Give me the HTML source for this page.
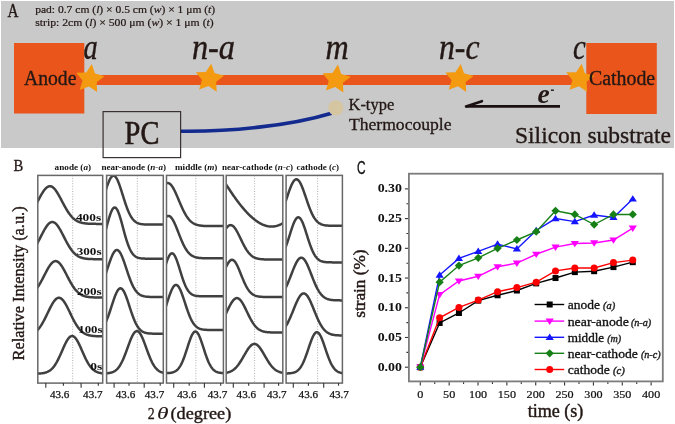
<!DOCTYPE html>
<html><head><meta charset="utf-8"><style>
html,body{margin:0;padding:0;background:#fff;width:675px;height:424px;overflow:hidden}
svg{display:block;will-change:transform}
</style></head><body>
<svg width="675" height="424" viewBox="0 0 675 424">
<rect width="675" height="424" fill="#fff"/>
<rect x="1" y="1" width="673" height="147" fill="#C9C9C9"/>
<text x="7.4" y="16.9" font-family="'Liberation Serif', serif" font-size="18.2" font-weight="normal" font-style="normal" fill="#231815" text-anchor="start" textLength="11" lengthAdjust="spacingAndGlyphs" stroke="#231815" stroke-width="0.35">A</text>
<text x="35.2" y="12.6" font-family="'Liberation Serif', serif" font-size="10.3" font-weight="normal" font-style="normal" fill="#231815" text-anchor="start" textLength="180" lengthAdjust="spacingAndGlyphs" stroke="#231815" stroke-width="0.2">pad: 0.7 cm (<tspan font-style="italic">l</tspan>) × 0.5 cm (<tspan font-style="italic">w</tspan>) × 1 μm (<tspan font-style="italic">t</tspan>)</text>
<text x="35.2" y="25.9" font-family="'Liberation Serif', serif" font-size="10.3" font-weight="normal" font-style="normal" fill="#231815" text-anchor="start" textLength="178.5" lengthAdjust="spacingAndGlyphs" stroke="#231815" stroke-width="0.2">strip: 2cm (<tspan font-style="italic">l</tspan>) × 500 μm (<tspan font-style="italic">w</tspan>) × 1 μm (<tspan font-style="italic">t</tspan>)</text>
<rect x="14" y="43" width="70.3" height="70.5" fill="#E9551A"/>
<rect x="586.3" y="43" width="70.5" height="71" fill="#E9551A"/>
<rect x="84" y="75" width="503" height="10" fill="#E9551A"/>
<text x="24" y="85.2" font-family="'Liberation Serif', serif" font-size="20" font-weight="normal" font-style="normal" fill="#231815" text-anchor="start" textLength="52.4" lengthAdjust="spacingAndGlyphs" stroke="#231815" stroke-width="0.35">Anode</text>
<polygon points="91.73,64.11 95.01,73.51 104.62,76.14 96.70,82.17 97.17,92.12 88.99,86.44 79.67,89.97 82.54,80.43 76.31,72.66 86.26,72.44" fill="#F39A10"/>
<polygon points="211.23,63.71 214.51,73.11 224.12,75.74 216.20,81.77 216.67,91.72 208.49,86.04 199.17,89.57 202.04,80.03 195.81,72.26 205.76,72.04" fill="#F39A10"/>
<polygon points="337.93,64.61 341.21,74.01 350.82,76.64 342.90,82.67 343.37,92.62 335.19,86.94 325.87,90.47 328.74,80.93 322.51,73.16 332.46,72.94" fill="#F39A10"/>
<polygon points="460.73,63.91 464.01,73.31 473.62,75.94 465.70,81.97 466.17,91.92 457.99,86.24 448.67,89.77 451.54,80.23 445.31,72.46 455.26,72.24" fill="#F39A10"/>
<polygon points="581.63,63.81 584.91,73.21 594.52,75.84 586.60,81.87 587.07,91.82 578.89,86.14 569.57,89.67 572.44,80.13 566.21,72.36 576.16,72.14" fill="#F39A10"/>
<text x="588.9" y="85" font-family="'Liberation Serif', serif" font-size="20" font-weight="normal" font-style="normal" fill="#231815" text-anchor="start" textLength="66.3" lengthAdjust="spacingAndGlyphs" stroke="#231815" stroke-width="0.35">Cathode</text>
<text x="83.6" y="59.4" font-family="'Liberation Serif', serif" font-size="35" font-weight="normal" font-style="italic" fill="#231815" text-anchor="start" textLength="14.2" lengthAdjust="spacingAndGlyphs" stroke="#231815" stroke-width="0.4">a</text>
<text x="191.9" y="59.1" font-family="'Liberation Serif', serif" font-size="35" font-weight="normal" font-style="italic" fill="#231815" text-anchor="start" textLength="43.1" lengthAdjust="spacingAndGlyphs" stroke="#231815" stroke-width="0.4">n-a</text>
<text x="325.5" y="58.9" font-family="'Liberation Serif', serif" font-size="35" font-weight="normal" font-style="italic" fill="#231815" text-anchor="start" textLength="23.2" lengthAdjust="spacingAndGlyphs" stroke="#231815" stroke-width="0.4">m</text>
<text x="439" y="59.3" font-family="'Liberation Serif', serif" font-size="35" font-weight="normal" font-style="italic" fill="#231815" text-anchor="start" textLength="40.5" lengthAdjust="spacingAndGlyphs" stroke="#231815" stroke-width="0.4">n-c</text>
<text x="573" y="59.2" font-family="'Liberation Serif', serif" font-size="35" font-weight="normal" font-style="italic" fill="#231815" text-anchor="start" textLength="12.8" lengthAdjust="spacingAndGlyphs" stroke="#231815" stroke-width="0.4">c</text>
<path d="M181,131.2 C230,131.8 290,125.8 331.5,113.2" fill="none" stroke="#132A8E" stroke-width="3.6"/>
<circle cx="335.8" cy="107.8" r="7.6" fill="#D5C5A1"/>
<text x="348.5" y="110.1" font-family="'Liberation Serif', serif" font-size="17" font-weight="normal" font-style="normal" fill="#231815" text-anchor="start" textLength="45.7" lengthAdjust="spacingAndGlyphs" stroke="#231815" stroke-width="0.3">K-type</text>
<text x="348.9" y="129.7" font-family="'Liberation Serif', serif" font-size="17" font-weight="normal" font-style="normal" fill="#231815" text-anchor="start" textLength="102.7" lengthAdjust="spacingAndGlyphs" stroke="#231815" stroke-width="0.3">Thermocouple</text>
<rect x="103.1" y="111.6" width="77.5" height="46" fill="none" stroke="#3a3232" stroke-width="1.2"/>
<text x="124.6" y="144.3" font-family="'Liberation Serif', serif" font-size="34" font-weight="normal" font-style="normal" fill="#231815" text-anchor="start" textLength="34.8" lengthAdjust="spacingAndGlyphs" stroke="#231815" stroke-width="0.6">PC</text>
<line x1="466" y1="106.4" x2="560" y2="106.4" stroke="#1a1010" stroke-width="2.6"/>
<line x1="466" y1="106.4" x2="481.9" y2="101.2" stroke="#1a1010" stroke-width="2.6" stroke-linecap="round"/>
<text x="537.6" y="103.2" font-family="'Liberation Serif', serif" font-size="28" font-weight="bold" font-style="italic" fill="#231815" text-anchor="start" textLength="12.2" lengthAdjust="spacingAndGlyphs">e</text>
<rect x="550.9" y="89.5" width="3" height="1.4" fill="#1a1010"/>
<text x="515" y="143" font-family="'Liberation Serif', serif" font-size="24" font-weight="normal" font-style="normal" fill="#231815" text-anchor="start" textLength="156" lengthAdjust="spacingAndGlyphs" stroke="#231815" stroke-width="0.35">Silicon substrate</text>
<text x="13.5" y="171.3" font-family="'Liberation Serif', serif" font-size="16.6" font-weight="normal" font-style="normal" fill="#231815" text-anchor="start" textLength="9.8" lengthAdjust="spacingAndGlyphs" stroke="#231815" stroke-width="0.3">B</text>
<text x="54.6" y="169.9" font-family="'Liberation Serif', serif" font-size="8.6" font-weight="bold" font-style="normal" fill="#111" text-anchor="start" textLength="36.5" lengthAdjust="spacingAndGlyphs">anode (<tspan font-style="italic">a</tspan>)</text>
<text x="101.4" y="169.9" font-family="'Liberation Serif', serif" font-size="8.6" font-weight="bold" font-style="normal" fill="#111" text-anchor="start" textLength="64.6" lengthAdjust="spacingAndGlyphs">near-anode (<tspan font-style="italic">n-a</tspan>)</text>
<text x="175" y="169.9" font-family="'Liberation Serif', serif" font-size="8.6" font-weight="bold" font-style="normal" fill="#111" text-anchor="start" textLength="42.4" lengthAdjust="spacingAndGlyphs">middle (<tspan font-style="italic">m</tspan>)</text>
<text x="222" y="169.9" font-family="'Liberation Serif', serif" font-size="8.6" font-weight="bold" font-style="normal" fill="#111" text-anchor="start" textLength="71" lengthAdjust="spacingAndGlyphs">near-cathode (<tspan font-style="italic">n-c</tspan>)</text>
<text x="296.6" y="169.9" font-family="'Liberation Serif', serif" font-size="8.6" font-weight="bold" font-style="normal" fill="#111" text-anchor="start" textLength="42.4" lengthAdjust="spacingAndGlyphs">cathode (<tspan font-style="italic">c</tspan>)</text>
<defs>
<clipPath id="cb0"><rect x="37.8" y="175.4" width="64.9" height="207.70000000000002"/></clipPath>
<clipPath id="cb1"><rect x="106.6" y="175.4" width="56.70000000000002" height="207.70000000000002"/></clipPath>
<clipPath id="cb2"><rect x="166.5" y="175.4" width="56.900000000000006" height="207.70000000000002"/></clipPath>
<clipPath id="cb3"><rect x="226.2" y="175.4" width="56.60000000000002" height="207.70000000000002"/></clipPath>
<clipPath id="cb4"><rect x="286.1" y="175.4" width="56.299999999999955" height="207.70000000000002"/></clipPath>
</defs>
<rect x="37.8" y="175.4" width="64.9" height="207.70000000000002" fill="#fff"/>
<line x1="72.7" y1="175.4" x2="72.7" y2="383.1" stroke="#9a9a9a" stroke-width="0.8" stroke-dasharray="1,1.6"/>
<g clip-path="url(#cb0)"><polyline points="35.8,373.65 36.3,373.64 36.8,373.63 37.3,373.61 37.8,373.59 38.3,373.58 38.8,373.55 39.3,373.53 39.8,373.50 40.3,373.46 40.8,373.42 41.3,373.37 41.8,373.32 42.3,373.26 42.8,373.18 43.3,373.10 43.8,373.01 44.3,372.91 44.8,372.79 45.3,372.66 45.8,372.51 46.3,372.35 46.8,372.16 47.3,371.96 47.8,371.73 48.3,371.48 48.8,371.20 49.3,370.90 49.8,370.56 50.3,370.20 50.8,369.80 51.3,369.37 51.8,368.90 52.3,368.39 52.8,367.85 53.3,367.26 53.8,366.63 54.3,365.97 54.8,365.26 55.3,364.51 55.8,363.71 56.3,362.88 56.8,362.00 57.3,361.09 57.8,360.14 58.3,359.15 58.8,358.13 59.3,357.08 59.8,356.01 60.3,354.91 60.8,353.79 61.3,352.66 61.8,351.52 62.3,350.38 62.8,349.24 63.3,348.10 63.8,346.99 64.3,345.89 64.8,344.82 65.3,343.78 65.8,342.79 66.3,341.84 66.8,340.94 67.3,340.10 67.8,339.33 68.3,338.63 68.8,338.00 69.3,337.45 69.8,336.98 70.3,336.61 70.8,336.32 71.3,336.12 71.8,336.02 72.3,336.01 72.8,336.09 73.3,336.27 73.8,336.54 74.3,336.90 74.8,337.35 75.3,337.88 75.8,338.49 76.3,339.18 76.8,339.94 77.3,340.77 77.8,341.65 78.3,342.59 78.8,343.58 79.3,344.61 79.8,345.67 80.3,346.76 80.8,347.88 81.3,349.01 81.8,350.15 82.3,351.29 82.8,352.43 83.3,353.56 83.8,354.69 84.3,355.79 84.8,356.87 85.3,357.92 85.8,358.95 86.3,359.94 86.8,360.90 87.3,361.82 87.8,362.71 88.3,363.55 88.8,364.35 89.3,365.11 89.8,365.83 90.3,366.50 90.8,367.14 91.3,367.73 91.8,368.28 92.3,368.80 92.8,369.28 93.3,369.72 93.8,370.12 94.3,370.49 94.8,370.83 95.3,371.14 95.8,371.43 96.3,371.68 96.8,371.92 97.3,372.12 97.8,372.31 98.3,372.48 98.8,372.63 99.3,372.77 99.8,372.89 100.3,372.99 100.8,373.09 101.3,373.17 101.8,373.24 102.3,373.31 102.8,373.36 103.3,373.41 103.8,373.45 104.3,373.49" fill="none" stroke="#404040" stroke-width="2.5" stroke-linejoin="round"/><polyline points="35.8,331.71 36.3,331.27 36.8,330.80 37.3,330.30 37.8,329.77 38.3,329.21 38.8,328.61 39.3,327.97 39.8,327.31 40.3,326.60 40.8,325.87 41.3,325.10 41.8,324.30 42.3,323.46 42.8,322.60 43.3,321.71 43.8,320.78 44.3,319.84 44.8,318.87 45.3,317.88 45.8,316.87 46.3,315.85 46.8,314.82 47.3,313.78 47.8,312.74 48.3,311.70 48.8,310.66 49.3,309.64 49.8,308.62 50.3,307.63 50.8,306.66 51.3,305.72 51.8,304.81 52.3,303.94 52.8,303.11 53.3,302.32 53.8,301.59 54.3,300.91 54.8,300.30 55.3,299.74 55.8,299.25 56.3,298.82 56.8,298.47 57.3,298.19 57.8,297.99 58.3,297.86 58.8,297.80 59.3,297.82 59.8,297.92 60.3,298.10 60.8,298.35 61.3,298.67 61.8,299.07 62.3,299.53 62.8,300.06 63.3,300.66 63.8,301.31 64.3,302.02 64.8,302.79 65.3,303.60 65.8,304.45 66.3,305.35 66.8,306.28 67.3,307.24 67.8,308.22 68.3,309.23 68.8,310.25 69.3,311.28 69.8,312.32 70.3,313.37 70.8,314.41 71.3,315.44 71.8,316.47 72.3,317.48 72.8,318.48 73.3,319.45 73.8,320.41 74.3,321.34 74.8,322.25 75.3,323.12 75.8,323.97 76.3,324.78 76.8,325.56 77.3,326.31 77.8,327.03 78.3,327.71 78.8,328.36 79.3,328.97 79.8,329.55 80.3,330.10 80.8,330.61 81.3,331.09 81.8,331.54 82.3,331.96 82.8,332.35 83.3,332.71 83.8,333.05 84.3,333.36 84.8,333.64 85.3,333.91 85.8,334.15 86.3,334.37 86.8,334.57 87.3,334.75 87.8,334.92 88.3,335.07 88.8,335.21 89.3,335.33 89.8,335.44 90.3,335.54 90.8,335.63 91.3,335.71 91.8,335.79 92.3,335.85 92.8,335.91 93.3,335.96 93.8,336.00 94.3,336.04 94.8,336.07 95.3,336.10 95.8,336.13 96.3,336.15 96.8,336.17 97.3,336.19 97.8,336.21 98.3,336.22 98.8,336.23 99.3,336.24 99.8,336.25 100.3,336.26 100.8,336.26 101.3,336.27 101.8,336.27 102.3,336.28 102.8,336.28 103.3,336.29 103.8,336.29 104.3,336.29" fill="none" stroke="#404040" stroke-width="2.5" stroke-linejoin="round"/><polyline points="35.8,289.66 36.3,289.03 36.8,288.38 37.3,287.69 37.8,286.97 38.3,286.22 38.8,285.45 39.3,284.64 39.8,283.80 40.3,282.94 40.8,282.06 41.3,281.16 41.8,280.23 42.3,279.29 42.8,278.34 43.3,277.37 43.8,276.40 44.3,275.42 44.8,274.45 45.3,273.47 45.8,272.51 46.3,271.56 46.8,270.62 47.3,269.71 47.8,268.82 48.3,267.96 48.8,267.13 49.3,266.34 49.8,265.59 50.3,264.89 50.8,264.24 51.3,263.64 51.8,263.10 52.3,262.62 52.8,262.20 53.3,261.85 53.8,261.56 54.3,261.34 54.8,261.19 55.3,261.11 55.8,261.11 56.3,261.17 56.8,261.30 57.3,261.51 57.8,261.78 58.3,262.12 58.8,262.53 59.3,263.00 59.8,263.53 60.3,264.12 60.8,264.76 61.3,265.45 61.8,266.19 62.3,266.97 62.8,267.79 63.3,268.64 63.8,269.53 64.3,270.44 64.8,271.37 65.3,272.32 65.8,273.28 66.3,274.25 66.8,275.23 67.3,276.20 67.8,277.18 68.3,278.14 68.8,279.10 69.3,280.05 69.8,280.97 70.3,281.88 70.8,282.77 71.3,283.63 71.8,284.47 72.3,285.29 72.8,286.07 73.3,286.83 73.8,287.55 74.3,288.24 74.8,288.91 75.3,289.54 75.8,290.13 76.3,290.70 76.8,291.24 77.3,291.74 77.8,292.22 78.3,292.66 78.8,293.08 79.3,293.46 79.8,293.83 80.3,294.16 80.8,294.47 81.3,294.76 81.8,295.02 82.3,295.27 82.8,295.49 83.3,295.70 83.8,295.88 84.3,296.05 84.8,296.21 85.3,296.35 85.8,296.48 86.3,296.59 86.8,296.70 87.3,296.79 87.8,296.87 88.3,296.95 88.8,297.01 89.3,297.07 89.8,297.13 90.3,297.17 90.8,297.22 91.3,297.25 91.8,297.28 92.3,297.31 92.8,297.34 93.3,297.36 93.8,297.38 94.3,297.40 94.8,297.41 95.3,297.42 95.8,297.44 96.3,297.44 96.8,297.45 97.3,297.46 97.8,297.47 98.3,297.47 98.8,297.48 99.3,297.48 99.8,297.48 100.3,297.49 100.8,297.49 101.3,297.49 101.8,297.49 102.3,297.49 102.8,297.49 103.3,297.50 103.8,297.50 104.3,297.50" fill="none" stroke="#404040" stroke-width="2.5" stroke-linejoin="round"/><polyline points="35.8,245.91 36.3,245.07 36.8,244.20 37.3,243.31 37.8,242.40 38.3,241.47 38.8,240.52 39.3,239.56 39.8,238.59 40.3,237.62 40.8,236.64 41.3,235.66 41.8,234.68 42.3,233.71 42.8,232.75 43.3,231.81 43.8,230.89 44.3,229.99 44.8,229.13 45.3,228.29 45.8,227.49 46.3,226.73 46.8,226.02 47.3,225.36 47.8,224.74 48.3,224.18 48.8,223.68 49.3,223.24 49.8,222.87 50.3,222.56 50.8,222.32 51.3,222.14 51.8,222.04 52.3,222.00 52.8,222.04 53.3,222.14 53.8,222.32 54.3,222.56 54.8,222.87 55.3,223.24 55.8,223.68 56.3,224.18 56.8,224.74 57.3,225.36 57.8,226.02 58.3,226.73 58.8,227.49 59.3,228.29 59.8,229.13 60.3,229.99 60.8,230.89 61.3,231.81 61.8,232.75 62.3,233.71 62.8,234.68 63.3,235.66 63.8,236.64 64.3,237.62 64.8,238.59 65.3,239.56 65.8,240.52 66.3,241.47 66.8,242.40 67.3,243.31 67.8,244.20 68.3,245.07 68.8,245.91 69.3,246.73 69.8,247.51 70.3,248.27 70.8,249.00 71.3,249.70 71.8,250.37 72.3,251.00 72.8,251.61 73.3,252.18 73.8,252.72 74.3,253.23 74.8,253.71 75.3,254.17 75.8,254.59 76.3,254.99 76.8,255.35 77.3,255.70 77.8,256.02 78.3,256.31 78.8,256.58 79.3,256.84 79.8,257.07 80.3,257.28 80.8,257.47 81.3,257.65 81.8,257.81 82.3,257.96 82.8,258.10 83.3,258.22 83.8,258.33 84.3,258.43 84.8,258.51 85.3,258.59 85.8,258.67 86.3,258.73 86.8,258.79 87.3,258.84 87.8,258.88 88.3,258.92 88.8,258.96 89.3,258.99 89.8,259.02 90.3,259.04 90.8,259.06 91.3,259.08 91.8,259.10 92.3,259.11 92.8,259.12 93.3,259.14 93.8,259.14 94.3,259.15 94.8,259.16 95.3,259.17 95.8,259.17 96.3,259.18 96.8,259.18 97.3,259.18 97.8,259.19 98.3,259.19 98.8,259.19 99.3,259.19 99.8,259.19 100.3,259.19 100.8,259.19 101.3,259.20 101.8,259.20 102.3,259.20 102.8,259.20 103.3,259.20 103.8,259.20 104.3,259.20" fill="none" stroke="#404040" stroke-width="2.5" stroke-linejoin="round"/><polyline points="35.8,205.00 36.3,204.07 36.8,203.12 37.3,202.18 37.8,201.22 38.3,200.27 38.8,199.32 39.3,198.38 39.8,197.44 40.3,196.52 40.8,195.62 41.3,194.74 41.8,193.88 42.3,193.05 42.8,192.25 43.3,191.49 43.8,190.77 44.3,190.09 44.8,189.46 45.3,188.87 45.8,188.34 46.3,187.86 46.8,187.44 47.3,187.07 47.8,186.77 48.3,186.53 48.8,186.36 49.3,186.25 49.8,186.20 50.3,186.22 50.8,186.31 51.3,186.46 51.8,186.67 52.3,186.95 52.8,187.28 53.3,187.68 53.8,188.14 54.3,188.65 54.8,189.22 55.3,189.83 55.8,190.49 56.3,191.20 56.8,191.94 57.3,192.73 57.8,193.55 58.3,194.39 58.8,195.27 59.3,196.16 59.8,197.07 60.3,198.00 60.8,198.94 61.3,199.89 61.8,200.84 62.3,201.80 62.8,202.75 63.3,203.69 63.8,204.63 64.3,205.55 64.8,206.46 65.3,207.35 65.8,208.23 66.3,209.08 66.8,209.92 67.3,210.72 67.8,211.51 68.3,212.26 68.8,212.99 69.3,213.70 69.8,214.37 70.3,215.01 70.8,215.63 71.3,216.21 71.8,216.77 72.3,217.30 72.8,217.80 73.3,218.27 73.8,218.71 74.3,219.13 74.8,219.52 75.3,219.89 75.8,220.23 76.3,220.55 76.8,220.84 77.3,221.12 77.8,221.37 78.3,221.61 78.8,221.83 79.3,222.03 79.8,222.21 80.3,222.38 80.8,222.53 81.3,222.67 81.8,222.80 82.3,222.92 82.8,223.02 83.3,223.12 83.8,223.20 84.3,223.28 84.8,223.35 85.3,223.41 85.8,223.47 86.3,223.52 86.8,223.57 87.3,223.61 87.8,223.64 88.3,223.67 88.8,223.70 89.3,223.73 89.8,223.75 90.3,223.77 90.8,223.79 91.3,223.80 91.8,223.82 92.3,223.83 92.8,223.84 93.3,223.85 93.8,223.85 94.3,223.86 94.8,223.87 95.3,223.87 95.8,223.87 96.3,223.88 96.8,223.88 97.3,223.88 97.8,223.89 98.3,223.89 98.8,223.89 99.3,223.89 99.8,223.89 100.3,223.89 100.8,223.90 101.3,223.90 101.8,223.90 102.3,223.90 102.8,223.90 103.3,223.90 103.8,223.90 104.3,223.90" fill="none" stroke="#404040" stroke-width="2.5" stroke-linejoin="round"/></g>
<rect x="37.8" y="175.4" width="64.9" height="207.70000000000002" fill="none" stroke="#686868" stroke-width="1.5"/>
<line x1="45.8" y1="383.1" x2="45.8" y2="387.8" stroke="#333" stroke-width="1.1"/>
<line x1="63.4" y1="383.1" x2="63.4" y2="385.70000000000005" stroke="#333" stroke-width="1.1"/>
<line x1="81.1" y1="383.1" x2="81.1" y2="387.8" stroke="#333" stroke-width="1.1"/>
<line x1="98.3" y1="383.1" x2="98.3" y2="385.70000000000005" stroke="#333" stroke-width="1.1"/>
<text x="59.7" y="397.6" font-family="'Liberation Serif', serif" font-size="10.2" font-weight="normal" font-style="normal" fill="#111" text-anchor="middle" textLength="19.4" lengthAdjust="spacingAndGlyphs" stroke="#111" stroke-width="0.25">43.6</text>
<text x="92.8" y="397.6" font-family="'Liberation Serif', serif" font-size="10.2" font-weight="normal" font-style="normal" fill="#111" text-anchor="middle" textLength="19.4" lengthAdjust="spacingAndGlyphs" stroke="#111" stroke-width="0.25">43.7</text>
<rect x="106.6" y="175.4" width="56.70000000000002" height="207.70000000000002" fill="#fff"/>
<line x1="137.3" y1="175.4" x2="137.3" y2="383.1" stroke="#9a9a9a" stroke-width="0.8" stroke-dasharray="1,1.6"/>
<g clip-path="url(#cb1)"><polyline points="104.6,373.40 105.1,373.38 105.6,373.35 106.1,373.32 106.6,373.29 107.1,373.25 107.6,373.20 108.1,373.15 108.6,373.09 109.1,373.01 109.6,372.93 110.1,372.83 110.6,372.72 111.1,372.60 111.6,372.45 112.1,372.29 112.6,372.10 113.1,371.90 113.6,371.66 114.1,371.40 114.6,371.11 115.1,370.78 115.6,370.42 116.1,370.02 116.6,369.58 117.1,369.10 117.6,368.58 118.1,368.00 118.6,367.38 119.1,366.71 119.6,365.98 120.1,365.21 120.6,364.37 121.1,363.49 121.6,362.54 122.1,361.55 122.6,360.50 123.1,359.40 123.6,358.25 124.1,357.06 124.6,355.82 125.1,354.54 125.6,353.23 126.1,351.90 126.6,350.54 127.1,349.16 127.6,347.78 128.1,346.40 128.6,345.03 129.1,343.67 129.6,342.34 130.1,341.05 130.6,339.79 131.1,338.59 131.6,337.46 132.1,336.39 132.6,335.40 133.1,334.50 133.6,333.69 134.1,332.98 134.6,332.38 135.1,331.89 135.6,331.51 136.1,331.26 136.6,331.12 137.1,331.11 137.6,331.22 138.1,331.45 138.6,331.80 139.1,332.27 139.6,332.85 140.1,333.54 140.6,334.33 141.1,335.21 141.6,336.18 142.1,337.24 142.6,338.36 143.1,339.55 143.6,340.79 144.1,342.08 144.6,343.40 145.1,344.76 145.6,346.13 146.1,347.51 146.6,348.89 147.1,350.26 147.6,351.63 148.1,352.97 148.6,354.28 149.1,355.57 149.6,356.81 150.1,358.02 150.6,359.17 151.1,360.28 151.6,361.34 152.1,362.35 152.6,363.30 153.1,364.20 153.6,365.04 154.1,365.83 154.6,366.57 155.1,367.25 155.6,367.88 156.1,368.47 156.6,369.00 157.1,369.49 157.6,369.94 158.1,370.35 158.6,370.71 159.1,371.05 159.6,371.34 160.1,371.61 160.6,371.85 161.1,372.06 161.6,372.25 162.1,372.42 162.6,372.57 163.1,372.70 163.6,372.81 164.1,372.91 164.6,373.00 165.1,373.07" fill="none" stroke="#404040" stroke-width="2.5" stroke-linejoin="round"/><polyline points="104.6,324.50 105.1,323.54 105.6,322.52 106.1,321.44 106.6,320.29 107.1,319.08 107.6,317.82 108.1,316.50 108.6,315.13 109.1,313.71 109.6,312.25 110.1,310.76 110.6,309.24 111.1,307.71 111.6,306.16 112.1,304.62 112.6,303.08 113.1,301.57 113.6,300.08 114.1,298.64 114.6,297.26 115.1,295.93 115.6,294.68 116.1,293.52 116.6,292.46 117.1,291.49 117.6,290.65 118.1,289.92 118.6,289.32 119.1,288.86 119.6,288.53 120.1,288.35 120.6,288.30 121.1,288.40 121.6,288.65 122.1,289.03 122.6,289.55 123.1,290.20 123.6,290.97 124.1,291.87 124.6,292.87 125.1,293.98 125.6,295.17 126.1,296.45 126.6,297.80 127.1,299.21 127.6,300.67 128.1,302.17 128.6,303.70 129.1,305.24 129.6,306.78 130.1,308.32 130.6,309.85 131.1,311.36 131.6,312.84 132.1,314.28 132.6,315.68 133.1,317.03 133.6,318.33 134.1,319.57 134.6,320.76 135.1,321.88 135.6,322.94 136.1,323.93 136.6,324.86 137.1,325.73 137.6,326.53 138.1,327.27 138.6,327.96 139.1,328.59 139.6,329.16 140.1,329.68 140.6,330.16 141.1,330.58 141.6,330.97 142.1,331.31 142.6,331.62 143.1,331.89 143.6,332.14 144.1,332.35 144.6,332.54 145.1,332.70 145.6,332.85 146.1,332.97 146.6,333.08 147.1,333.18 147.6,333.26 148.1,333.33 148.6,333.39 149.1,333.44 149.6,333.48 150.1,333.52 150.6,333.55 151.1,333.58 151.6,333.60 152.1,333.62 152.6,333.63 153.1,333.64 153.6,333.65 154.1,333.66 154.6,333.67 155.1,333.68 155.6,333.68 156.1,333.68 156.6,333.69 157.1,333.69 157.6,333.69 158.1,333.69 158.6,333.70 159.1,333.70 159.6,333.70 160.1,333.70 160.6,333.70 161.1,333.70 161.6,333.70 162.1,333.70 162.6,333.70 163.1,333.70 163.6,333.70 164.1,333.70 164.6,333.70 165.1,333.70" fill="none" stroke="#404040" stroke-width="2.5" stroke-linejoin="round"/><polyline points="104.6,277.03 105.1,275.62 105.6,274.18 106.1,272.71 106.6,271.21 107.1,269.71 107.6,268.19 108.1,266.68 108.6,265.17 109.1,263.69 109.6,262.24 110.1,260.82 110.6,259.45 111.1,258.15 111.6,256.91 112.1,255.75 112.6,254.67 113.1,253.69 113.6,252.81 114.1,252.04 114.6,251.39 115.1,250.85 115.6,250.45 116.1,250.17 116.6,250.02 117.1,250.01 117.6,250.13 118.1,250.38 118.6,250.76 119.1,251.27 119.6,251.90 120.1,252.65 120.6,253.50 121.1,254.46 121.6,255.52 122.1,256.67 122.6,257.89 123.1,259.19 123.6,260.54 124.1,261.95 124.6,263.40 125.1,264.87 125.6,266.37 126.1,267.89 126.6,269.40 127.1,270.91 127.6,272.41 128.1,273.89 128.6,275.34 129.1,276.75 129.6,278.13 130.1,279.47 130.6,280.75 131.1,281.98 131.6,283.16 132.1,284.29 132.6,285.35 133.1,286.36 133.6,287.30 134.1,288.19 134.6,289.02 135.1,289.79 135.6,290.50 136.1,291.16 136.6,291.77 137.1,292.33 137.6,292.84 138.1,293.31 138.6,293.73 139.1,294.11 139.6,294.45 140.1,294.76 140.6,295.04 141.1,295.29 141.6,295.51 142.1,295.71 142.6,295.88 143.1,296.03 143.6,296.17 144.1,296.29 144.6,296.39 145.1,296.48 145.6,296.56 146.1,296.62 146.6,296.68 147.1,296.73 147.6,296.77 148.1,296.81 148.6,296.84 149.1,296.87 149.6,296.89 150.1,296.91 150.6,296.92 151.1,296.94 151.6,296.95 152.1,296.96 152.6,296.97 153.1,296.97 153.6,296.98 154.1,296.98 154.6,296.98 155.1,296.99 155.6,296.99 156.1,296.99 156.6,296.99 157.1,296.99 157.6,297.00 158.1,297.00 158.6,297.00 159.1,297.00 159.6,297.00 160.1,297.00 160.6,297.00 161.1,297.00 161.6,297.00 162.1,297.00 162.6,297.00 163.1,297.00 163.6,297.00 164.1,297.00 164.6,297.00 165.1,297.00" fill="none" stroke="#404040" stroke-width="2.5" stroke-linejoin="round"/><polyline points="104.6,234.28 105.1,232.47 105.6,230.63 106.1,228.77 106.6,226.90 107.1,225.03 107.6,223.19 108.1,221.38 108.6,219.62 109.1,217.92 109.6,216.31 110.1,214.79 110.6,213.38 111.1,212.10 111.6,210.95 112.1,209.95 112.6,209.11 113.1,208.44 113.6,207.95 114.1,207.63 114.6,207.50 115.1,207.56 115.6,207.80 116.1,208.22 116.6,208.82 117.1,209.60 117.6,210.53 118.1,211.62 118.6,212.85 119.1,214.21 119.6,215.69 120.1,217.27 120.6,218.93 121.1,220.67 121.6,222.46 122.1,224.29 122.6,226.15 123.1,228.02 123.6,229.89 124.1,231.74 124.6,233.56 125.1,235.35 125.6,237.08 126.1,238.76 126.6,240.38 127.1,241.93 127.6,243.40 128.1,244.79 128.6,246.10 129.1,247.33 129.6,248.48 130.1,249.54 130.6,250.53 131.1,251.43 131.6,252.26 132.1,253.01 132.6,253.70 133.1,254.31 133.6,254.87 134.1,255.37 134.6,255.81 135.1,256.20 135.6,256.55 136.1,256.86 136.6,257.12 137.1,257.36 137.6,257.56 138.1,257.74 138.6,257.89 139.1,258.02 139.6,258.13 140.1,258.23 140.6,258.31 141.1,258.37 141.6,258.43 142.1,258.48 142.6,258.52 143.1,258.55 143.6,258.58 144.1,258.60 144.6,258.62 145.1,258.64 145.6,258.65 146.1,258.66 146.6,258.67 147.1,258.67 147.6,258.68 148.1,258.68 148.6,258.69 149.1,258.69 149.6,258.69 150.1,258.69 150.6,258.70 151.1,258.70 151.6,258.70 152.1,258.70 152.6,258.70 153.1,258.70 153.6,258.70 154.1,258.70 154.6,258.70 155.1,258.70 155.6,258.70 156.1,258.70 156.6,258.70 157.1,258.70 157.6,258.70 158.1,258.70 158.6,258.70 159.1,258.70 159.6,258.70 160.1,258.70 160.6,258.70 161.1,258.70 161.6,258.70 162.1,258.70 162.6,258.70 163.1,258.70 163.6,258.70 164.1,258.70 164.6,258.70 165.1,258.70" fill="none" stroke="#404040" stroke-width="2.5" stroke-linejoin="round"/><polyline points="104.6,193.97 105.1,192.37 105.6,190.78 106.1,189.21 106.6,187.69 107.1,186.21 107.6,184.79 108.1,183.44 108.6,182.17 109.1,180.98 109.6,179.90 110.1,178.93 110.6,178.07 111.1,177.34 111.6,176.73 112.1,176.26 112.6,175.93 113.1,175.75 113.6,175.70 114.1,175.80 114.6,176.05 115.1,176.43 115.6,176.96 116.1,177.61 116.6,178.40 117.1,179.30 117.6,180.32 118.1,181.45 118.6,182.66 119.1,183.97 119.6,185.35 120.1,186.79 120.6,188.29 121.1,189.84 121.6,191.41 122.1,193.01 122.6,194.62 123.1,196.23 123.6,197.83 124.1,199.42 124.6,200.98 125.1,202.52 125.6,204.01 126.1,205.46 126.6,206.86 127.1,208.20 127.6,209.49 128.1,210.72 128.6,211.88 129.1,212.99 129.6,214.02 130.1,215.00 130.6,215.91 131.1,216.75 131.6,217.54 132.1,218.27 132.6,218.93 133.1,219.54 133.6,220.10 134.1,220.61 134.6,221.08 135.1,221.49 135.6,221.87 136.1,222.21 136.6,222.51 137.1,222.78 137.6,223.02 138.1,223.23 138.6,223.42 139.1,223.58 139.6,223.73 140.1,223.85 140.6,223.96 141.1,224.06 141.6,224.14 142.1,224.21 142.6,224.27 143.1,224.32 143.6,224.37 144.1,224.41 144.6,224.44 145.1,224.47 145.6,224.49 146.1,224.51 146.6,224.52 147.1,224.54 147.6,224.55 148.1,224.56 148.6,224.57 149.1,224.57 149.6,224.58 150.1,224.58 150.6,224.59 151.1,224.59 151.6,224.59 152.1,224.59 152.6,224.59 153.1,224.60 153.6,224.60 154.1,224.60 154.6,224.60 155.1,224.60 155.6,224.60 156.1,224.60 156.6,224.60 157.1,224.60 157.6,224.60 158.1,224.60 158.6,224.60 159.1,224.60 159.6,224.60 160.1,224.60 160.6,224.60 161.1,224.60 161.6,224.60 162.1,224.60 162.6,224.60 163.1,224.60 163.6,224.60 164.1,224.60 164.6,224.60 165.1,224.60" fill="none" stroke="#404040" stroke-width="2.5" stroke-linejoin="round"/></g>
<rect x="106.6" y="175.4" width="56.70000000000002" height="207.70000000000002" fill="none" stroke="#686868" stroke-width="1.5"/>
<line x1="114.1" y1="383.1" x2="114.1" y2="387.8" stroke="#333" stroke-width="1.1"/>
<line x1="129" y1="383.1" x2="129" y2="385.70000000000005" stroke="#333" stroke-width="1.1"/>
<line x1="144.2" y1="383.1" x2="144.2" y2="387.8" stroke="#333" stroke-width="1.1"/>
<line x1="160.2" y1="383.1" x2="160.2" y2="385.70000000000005" stroke="#333" stroke-width="1.1"/>
<text x="125.5" y="397.6" font-family="'Liberation Serif', serif" font-size="10.2" font-weight="normal" font-style="normal" fill="#111" text-anchor="middle" textLength="19.4" lengthAdjust="spacingAndGlyphs" stroke="#111" stroke-width="0.25">43.6</text>
<text x="154.5" y="397.6" font-family="'Liberation Serif', serif" font-size="10.2" font-weight="normal" font-style="normal" fill="#111" text-anchor="middle" textLength="19.4" lengthAdjust="spacingAndGlyphs" stroke="#111" stroke-width="0.25">43.7</text>
<rect x="166.5" y="175.4" width="56.900000000000006" height="207.70000000000002" fill="#fff"/>
<line x1="195.9" y1="175.4" x2="195.9" y2="383.1" stroke="#9a9a9a" stroke-width="0.8" stroke-dasharray="1,1.6"/>
<g clip-path="url(#cb2)"><polyline points="164.5,373.17 165.0,373.16 165.5,373.15 166.0,373.14 166.5,373.13 167.0,373.11 167.5,373.09 168.0,373.06 168.5,373.03 169.0,372.99 169.5,372.95 170.0,372.89 170.5,372.83 171.0,372.75 171.5,372.66 172.0,372.56 172.5,372.43 173.0,372.29 173.5,372.12 174.0,371.93 174.5,371.71 175.0,371.45 175.5,371.16 176.0,370.83 176.5,370.46 177.0,370.04 177.5,369.57 178.0,369.05 178.5,368.47 179.0,367.83 179.5,367.13 180.0,366.36 180.5,365.52 181.0,364.61 181.5,363.64 182.0,362.59 182.5,361.47 183.0,360.28 183.5,359.03 184.0,357.71 184.5,356.34 185.0,354.91 185.5,353.44 186.0,351.93 186.5,350.40 187.0,348.84 187.5,347.28 188.0,345.73 188.5,344.19 189.0,342.68 189.5,341.22 190.0,339.81 190.5,338.47 191.0,337.22 191.5,336.06 192.0,335.02 192.5,334.09 193.0,333.29 193.5,332.63 194.0,332.12 194.5,331.76 195.0,331.55 195.5,331.50 196.0,331.61 196.5,331.88 197.0,332.31 197.5,332.88 198.0,333.59 198.5,334.44 199.0,335.42 199.5,336.51 200.0,337.71 200.5,339.00 201.0,340.36 201.5,341.80 202.0,343.28 202.5,344.80 203.0,346.35 203.5,347.91 204.0,349.47 204.5,351.01 205.0,352.54 205.5,354.03 206.0,355.49 206.5,356.89 207.0,358.24 207.5,359.54 208.0,360.76 208.5,361.92 209.0,363.01 209.5,364.03 210.0,364.98 210.5,365.86 211.0,366.67 211.5,367.42 212.0,368.09 212.5,368.71 213.0,369.27 213.5,369.77 214.0,370.21 214.5,370.61 215.0,370.97 215.5,371.28 216.0,371.56 216.5,371.80 217.0,372.01 217.5,372.19 218.0,372.35 218.5,372.49 219.0,372.60 219.5,372.70 220.0,372.79 220.5,372.86 221.0,372.92 221.5,372.97 222.0,373.01 222.5,373.05 223.0,373.07 223.5,373.10 224.0,373.12 224.5,373.13 225.0,373.15" fill="none" stroke="#404040" stroke-width="2.5" stroke-linejoin="round"/><polyline points="164.5,310.43 165.0,308.99 165.5,307.51 166.0,306.01 166.5,304.49 167.0,302.95 167.5,301.42 168.0,299.89 168.5,298.38 169.0,296.90 169.5,295.46 170.0,294.07 170.5,292.74 171.0,291.48 171.5,290.31 172.0,289.23 172.5,288.26 173.0,287.39 173.5,286.64 174.0,286.02 174.5,285.54 175.0,285.18 175.5,284.97 176.0,284.90 176.5,284.97 177.0,285.18 177.5,285.54 178.0,286.02 178.5,286.64 179.0,287.39 179.5,288.26 180.0,289.23 180.5,290.31 181.0,291.48 181.5,292.74 182.0,294.07 182.5,295.46 183.0,296.90 183.5,298.38 184.0,299.89 184.5,301.42 185.0,302.95 185.5,304.49 186.0,306.01 186.5,307.51 187.0,308.99 187.5,310.43 188.0,311.83 188.5,313.18 189.0,314.48 189.5,315.73 190.0,316.91 190.5,318.04 191.0,319.10 191.5,320.10 192.0,321.04 192.5,321.91 193.0,322.72 193.5,323.47 194.0,324.17 194.5,324.80 195.0,325.38 195.5,325.91 196.0,326.39 196.5,326.82 197.0,327.21 197.5,327.56 198.0,327.88 198.5,328.15 199.0,328.40 199.5,328.62 200.0,328.81 200.5,328.98 201.0,329.13 201.5,329.26 202.0,329.37 202.5,329.46 203.0,329.55 203.5,329.62 204.0,329.68 204.5,329.73 205.0,329.78 205.5,329.81 206.0,329.85 206.5,329.87 207.0,329.90 207.5,329.91 208.0,329.93 208.5,329.94 209.0,329.95 209.5,329.96 210.0,329.97 210.5,329.98 211.0,329.98 211.5,329.98 212.0,329.99 212.5,329.99 213.0,329.99 213.5,329.99 214.0,330.00 214.5,330.00 215.0,330.00 215.5,330.00 216.0,330.00 216.5,330.00 217.0,330.00 217.5,330.00 218.0,330.00 218.5,330.00 219.0,330.00 219.5,330.00 220.0,330.00 220.5,330.00 221.0,330.00 221.5,330.00 222.0,330.00 222.5,330.00 223.0,330.00 223.5,330.00 224.0,330.00 224.5,330.00 225.0,330.00" fill="none" stroke="#404040" stroke-width="2.5" stroke-linejoin="round"/><polyline points="164.5,268.59 165.0,266.98 165.5,265.39 166.0,263.84 166.5,262.35 167.0,260.93 167.5,259.59 168.0,258.35 168.5,257.22 169.0,256.22 169.5,255.35 170.0,254.62 170.5,254.05 171.0,253.63 171.5,253.38 172.0,253.30 172.5,253.38 173.0,253.63 173.5,254.05 174.0,254.62 174.5,255.35 175.0,256.22 175.5,257.22 176.0,258.35 176.5,259.59 177.0,260.93 177.5,262.35 178.0,263.84 178.5,265.39 179.0,266.98 179.5,268.59 180.0,270.22 180.5,271.85 181.0,273.46 181.5,275.05 182.0,276.61 182.5,278.13 183.0,279.59 183.5,281.00 184.0,282.34 184.5,283.61 185.0,284.82 185.5,285.95 186.0,287.00 186.5,287.98 187.0,288.89 187.5,289.72 188.0,290.48 188.5,291.17 189.0,291.80 189.5,292.37 190.0,292.88 190.5,293.33 191.0,293.74 191.5,294.10 192.0,294.41 192.5,294.69 193.0,294.93 193.5,295.14 194.0,295.32 194.5,295.48 195.0,295.61 195.5,295.72 196.0,295.82 196.5,295.90 197.0,295.97 197.5,296.03 198.0,296.08 198.5,296.12 199.0,296.16 199.5,296.18 200.0,296.21 200.5,296.22 201.0,296.24 201.5,296.25 202.0,296.26 202.5,296.27 203.0,296.28 203.5,296.28 204.0,296.29 204.5,296.29 205.0,296.29 205.5,296.29 206.0,296.29 206.5,296.30 207.0,296.30 207.5,296.30 208.0,296.30 208.5,296.30 209.0,296.30 209.5,296.30 210.0,296.30 210.5,296.30 211.0,296.30 211.5,296.30 212.0,296.30 212.5,296.30 213.0,296.30 213.5,296.30 214.0,296.30 214.5,296.30 215.0,296.30 215.5,296.30 216.0,296.30 216.5,296.30 217.0,296.30 217.5,296.30 218.0,296.30 218.5,296.30 219.0,296.30 219.5,296.30 220.0,296.30 220.5,296.30 221.0,296.30 221.5,296.30 222.0,296.30 222.5,296.30 223.0,296.30 223.5,296.30 224.0,296.30 224.5,296.30 225.0,296.30" fill="none" stroke="#404040" stroke-width="2.5" stroke-linejoin="round"/><polyline points="164.5,219.00 165.0,218.28 165.5,217.65 166.0,217.10 166.5,216.66 167.0,216.31 167.5,216.07 168.0,215.93 168.5,215.90 169.0,215.98 169.5,216.16 170.0,216.44 170.5,216.82 171.0,217.31 171.5,217.89 172.0,218.56 172.5,219.32 173.0,220.16 173.5,221.07 174.0,222.05 174.5,223.10 175.0,224.20 175.5,225.35 176.0,226.54 176.5,227.76 177.0,229.01 177.5,230.27 178.0,231.55 178.5,232.84 179.0,234.12 179.5,235.40 180.0,236.66 180.5,237.91 181.0,239.13 181.5,240.32 182.0,241.48 182.5,242.61 183.0,243.70 183.5,244.74 184.0,245.74 184.5,246.70 185.0,247.61 185.5,248.47 186.0,249.29 186.5,250.06 187.0,250.78 187.5,251.46 188.0,252.09 188.5,252.68 189.0,253.22 189.5,253.72 190.0,254.19 190.5,254.61 191.0,255.00 191.5,255.36 192.0,255.68 192.5,255.98 193.0,256.24 193.5,256.48 194.0,256.70 194.5,256.89 195.0,257.07 195.5,257.22 196.0,257.36 196.5,257.48 197.0,257.59 197.5,257.69 198.0,257.77 198.5,257.84 199.0,257.91 199.5,257.96 200.0,258.01 200.5,258.05 201.0,258.09 201.5,258.12 202.0,258.15 202.5,258.17 203.0,258.19 203.5,258.21 204.0,258.22 204.5,258.24 205.0,258.25 205.5,258.26 206.0,258.26 206.5,258.27 207.0,258.28 207.5,258.28 208.0,258.28 208.5,258.29 209.0,258.29 209.5,258.29 210.0,258.29 210.5,258.29 211.0,258.30 211.5,258.30 212.0,258.30 212.5,258.30 213.0,258.30 213.5,258.30 214.0,258.30 214.5,258.30 215.0,258.30 215.5,258.30 216.0,258.30 216.5,258.30 217.0,258.30 217.5,258.30 218.0,258.30 218.5,258.30 219.0,258.30 219.5,258.30 220.0,258.30 220.5,258.30 221.0,258.30 221.5,258.30 222.0,258.30 222.5,258.30 223.0,258.30 223.5,258.30 224.0,258.30 224.5,258.30 225.0,258.30" fill="none" stroke="#404040" stroke-width="2.5" stroke-linejoin="round"/><polyline points="164.5,184.79 165.0,184.28 165.5,183.85 166.0,183.51 166.5,183.26 167.0,183.09 167.5,183.01 168.0,183.02 168.5,183.11 169.0,183.30 169.5,183.57 170.0,183.93 170.5,184.37 171.0,184.90 171.5,185.50 172.0,186.17 172.5,186.91 173.0,187.72 173.5,188.59 174.0,189.52 174.5,190.50 175.0,191.52 175.5,192.58 176.0,193.68 176.5,194.80 177.0,195.95 177.5,197.12 178.0,198.30 178.5,199.48 179.0,200.67 179.5,201.86 180.0,203.03 180.5,204.20 181.0,205.35 181.5,206.48 182.0,207.59 182.5,208.67 183.0,209.72 183.5,210.74 184.0,211.72 184.5,212.67 185.0,213.59 185.5,214.46 186.0,215.30 186.5,216.10 187.0,216.85 187.5,217.57 188.0,218.25 188.5,218.89 189.0,219.49 189.5,220.05 190.0,220.58 190.5,221.07 191.0,221.53 191.5,221.95 192.0,222.34 192.5,222.71 193.0,223.04 193.5,223.35 194.0,223.63 194.5,223.88 195.0,224.12 195.5,224.33 196.0,224.53 196.5,224.70 197.0,224.86 197.5,225.00 198.0,225.13 198.5,225.24 199.0,225.35 199.5,225.44 200.0,225.52 200.5,225.59 201.0,225.66 201.5,225.72 202.0,225.77 202.5,225.81 203.0,225.85 203.5,225.88 204.0,225.91 204.5,225.94 205.0,225.96 205.5,225.98 206.0,226.00 206.5,226.01 207.0,226.03 207.5,226.04 208.0,226.05 208.5,226.06 209.0,226.06 209.5,226.07 210.0,226.07 210.5,226.08 211.0,226.08 211.5,226.08 212.0,226.09 212.5,226.09 213.0,226.09 213.5,226.09 214.0,226.09 214.5,226.09 215.0,226.10 215.5,226.10 216.0,226.10 216.5,226.10 217.0,226.10 217.5,226.10 218.0,226.10 218.5,226.10 219.0,226.10 219.5,226.10 220.0,226.10 220.5,226.10 221.0,226.10 221.5,226.10 222.0,226.10 222.5,226.10 223.0,226.10 223.5,226.10 224.0,226.10 224.5,226.10 225.0,226.10" fill="none" stroke="#404040" stroke-width="2.5" stroke-linejoin="round"/></g>
<rect x="166.5" y="175.4" width="56.900000000000006" height="207.70000000000002" fill="none" stroke="#686868" stroke-width="1.5"/>
<line x1="173.7" y1="383.1" x2="173.7" y2="387.8" stroke="#333" stroke-width="1.1"/>
<line x1="189.2" y1="383.1" x2="189.2" y2="385.70000000000005" stroke="#333" stroke-width="1.1"/>
<line x1="204.4" y1="383.1" x2="204.4" y2="387.8" stroke="#333" stroke-width="1.1"/>
<line x1="220.7" y1="383.1" x2="220.7" y2="385.70000000000005" stroke="#333" stroke-width="1.1"/>
<text x="186.9" y="397.6" font-family="'Liberation Serif', serif" font-size="10.2" font-weight="normal" font-style="normal" fill="#111" text-anchor="middle" textLength="19.4" lengthAdjust="spacingAndGlyphs" stroke="#111" stroke-width="0.25">43.6</text>
<text x="217.5" y="397.6" font-family="'Liberation Serif', serif" font-size="10.2" font-weight="normal" font-style="normal" fill="#111" text-anchor="middle" textLength="19.4" lengthAdjust="spacingAndGlyphs" stroke="#111" stroke-width="0.25">43.7</text>
<rect x="226.2" y="175.4" width="56.60000000000002" height="207.70000000000002" fill="#fff"/>
<line x1="254.6" y1="175.4" x2="254.6" y2="383.1" stroke="#9a9a9a" stroke-width="0.8" stroke-dasharray="1,1.6"/>
<g clip-path="url(#cb3)"><polyline points="224.2,373.10 224.7,373.04 225.2,372.97 225.7,372.89 226.2,372.80 226.7,372.70 227.2,372.59 227.7,372.47 228.2,372.34 228.7,372.18 229.2,372.02 229.7,371.83 230.2,371.63 230.7,371.40 231.2,371.16 231.7,370.89 232.2,370.60 232.7,370.28 233.2,369.94 233.7,369.57 234.2,369.17 234.7,368.75 235.2,368.29 235.7,367.80 236.2,367.29 236.7,366.74 237.2,366.16 237.7,365.55 238.2,364.91 238.7,364.24 239.2,363.54 239.7,362.81 240.2,362.06 240.7,361.28 241.2,360.48 241.7,359.66 242.2,358.82 242.7,357.97 243.2,357.11 243.7,356.24 244.2,355.37 244.7,354.50 245.2,353.64 245.7,352.78 246.2,351.94 246.7,351.12 247.2,350.32 247.7,349.54 248.2,348.80 248.7,348.10 249.2,347.44 249.7,346.83 250.2,346.26 250.7,345.75 251.2,345.29 251.7,344.90 252.2,344.57 252.7,344.30 253.2,344.10 253.7,343.97 254.2,343.91 254.7,343.91 255.2,343.99 255.7,344.13 256.2,344.35 256.7,344.63 257.2,344.97 257.7,345.38 258.2,345.85 258.7,346.37 259.2,346.95 259.7,347.57 260.2,348.24 260.7,348.95 261.2,349.70 261.7,350.47 262.2,351.28 262.7,352.11 263.2,352.95 263.7,353.81 264.2,354.68 264.7,355.55 265.2,356.42 265.7,357.28 266.2,358.14 266.7,358.99 267.2,359.82 267.7,360.64 268.2,361.44 268.7,362.21 269.2,362.96 269.7,363.68 270.2,364.37 270.7,365.04 271.2,365.67 271.7,366.28 272.2,366.85 272.7,367.39 273.2,367.90 273.7,368.38 274.2,368.83 274.7,369.26 275.2,369.65 275.7,370.01 276.2,370.35 276.7,370.66 277.2,370.95 277.7,371.21 278.2,371.45 278.7,371.67 279.2,371.87 279.7,372.05 280.2,372.22 280.7,372.36 281.2,372.50 281.7,372.62 282.2,372.72 282.7,372.82 283.2,372.91 283.7,372.98 284.2,373.05 284.7,373.11" fill="none" stroke="#404040" stroke-width="2.5" stroke-linejoin="round"/><polyline points="224.2,317.14 224.7,316.16 225.2,315.15 225.7,314.13 226.2,313.09 226.7,312.05 227.2,311.01 227.7,309.97 228.2,308.94 228.7,307.92 229.2,306.93 229.7,305.95 230.2,305.02 230.7,304.12 231.2,303.26 231.7,302.45 232.2,301.70 232.7,301.00 233.2,300.38 233.7,299.82 234.2,299.33 234.7,298.92 235.2,298.59 235.7,298.35 236.2,298.18 236.7,298.11 237.2,298.12 237.7,298.21 238.2,298.39 238.7,298.65 239.2,299.00 239.7,299.42 240.2,299.92 240.7,300.50 241.2,301.14 241.7,301.84 242.2,302.61 242.7,303.43 243.2,304.29 243.7,305.20 244.2,306.15 244.7,307.12 245.2,308.12 245.7,309.14 246.2,310.18 246.7,311.22 247.2,312.26 247.7,313.30 248.2,314.33 248.7,315.35 249.2,316.36 249.7,317.34 250.2,318.29 250.7,319.23 251.2,320.13 251.7,320.99 252.2,321.83 252.7,322.63 253.2,323.39 253.7,324.11 254.2,324.80 254.7,325.44 255.2,326.05 255.7,326.62 256.2,327.16 256.7,327.66 257.2,328.12 257.7,328.55 258.2,328.94 258.7,329.30 259.2,329.64 259.7,329.94 260.2,330.22 260.7,330.47 261.2,330.70 261.7,330.91 262.2,331.10 262.7,331.27 263.2,331.42 263.7,331.55 264.2,331.67 264.7,331.78 265.2,331.87 265.7,331.96 266.2,332.03 266.7,332.09 267.2,332.15 267.7,332.20 268.2,332.24 268.7,332.28 269.2,332.31 269.7,332.34 270.2,332.37 270.7,332.39 271.2,332.40 271.7,332.42 272.2,332.43 272.7,332.44 273.2,332.45 273.7,332.46 274.2,332.47 274.7,332.47 275.2,332.48 275.7,332.48 276.2,332.48 276.7,332.49 277.2,332.49 277.7,332.49 278.2,332.49 278.7,332.49 279.2,332.50 279.7,332.50 280.2,332.50 280.7,332.50 281.2,332.50 281.7,332.50 282.2,332.50 282.7,332.50 283.2,332.50 283.7,332.50 284.2,332.50 284.7,332.50" fill="none" stroke="#404040" stroke-width="2.5" stroke-linejoin="round"/><polyline points="224.2,271.45 224.7,270.23 225.2,269.04 225.7,267.88 226.2,266.78 226.7,265.72 227.2,264.73 227.7,263.81 228.2,262.97 228.7,262.22 229.2,261.56 229.7,261.00 230.2,260.54 230.7,260.19 231.2,259.95 231.7,259.82 232.2,259.81 232.7,259.91 233.2,260.13 233.7,260.46 234.2,260.89 234.7,261.44 235.2,262.08 235.7,262.81 236.2,263.64 236.7,264.54 237.2,265.52 237.7,266.56 238.2,267.66 238.7,268.80 239.2,269.99 239.7,271.20 240.2,272.44 240.7,273.69 241.2,274.94 241.7,276.19 242.2,277.43 242.7,278.65 243.2,279.85 243.7,281.02 244.2,282.16 244.7,283.25 245.2,284.31 245.7,285.32 246.2,286.29 246.7,287.20 247.2,288.06 247.7,288.88 248.2,289.64 248.7,290.35 249.2,291.01 249.7,291.62 250.2,292.19 250.7,292.70 251.2,293.18 251.7,293.61 252.2,294.00 252.7,294.36 253.2,294.68 253.7,294.97 254.2,295.22 254.7,295.45 255.2,295.66 255.7,295.84 256.2,296.00 256.7,296.14 257.2,296.26 257.7,296.37 258.2,296.46 258.7,296.54 259.2,296.61 259.7,296.67 260.2,296.73 260.7,296.77 261.2,296.81 261.7,296.84 262.2,296.87 262.7,296.89 263.2,296.91 263.7,296.92 264.2,296.94 264.7,296.95 265.2,296.96 265.7,296.97 266.2,296.97 266.7,296.98 267.2,296.98 267.7,296.99 268.2,296.99 268.7,296.99 269.2,296.99 269.7,296.99 270.2,297.00 270.7,297.00 271.2,297.00 271.7,297.00 272.2,297.00 272.7,297.00 273.2,297.00 273.7,297.00 274.2,297.00 274.7,297.00 275.2,297.00 275.7,297.00 276.2,297.00 276.7,297.00 277.2,297.00 277.7,297.00 278.2,297.00 278.7,297.00 279.2,297.00 279.7,297.00 280.2,297.00 280.7,297.00 281.2,297.00 281.7,297.00 282.2,297.00 282.7,297.00 283.2,297.00 283.7,297.00 284.2,297.00 284.7,297.00" fill="none" stroke="#404040" stroke-width="2.5" stroke-linejoin="round"/><polyline points="224.2,231.47 224.7,230.60 225.2,229.77 225.7,228.99 226.2,228.27 226.7,227.62 227.2,227.03 227.7,226.52 228.2,226.08 228.7,225.72 229.2,225.44 229.7,225.24 230.2,225.13 230.7,225.10 231.2,225.16 231.7,225.31 232.2,225.54 232.7,225.85 233.2,226.24 233.7,226.71 234.2,227.26 234.7,227.87 235.2,228.55 235.7,229.30 236.2,230.09 236.7,230.94 237.2,231.83 237.7,232.76 238.2,233.73 238.7,234.72 239.2,235.73 239.7,236.76 240.2,237.80 240.7,238.84 241.2,239.89 241.7,240.92 242.2,241.95 242.7,242.96 243.2,243.95 243.7,244.91 244.2,245.86 244.7,246.77 245.2,247.65 245.7,248.50 246.2,249.31 246.7,250.09 247.2,250.83 247.7,251.53 248.2,252.19 248.7,252.81 249.2,253.40 249.7,253.95 250.2,254.46 250.7,254.94 251.2,255.38 251.7,255.79 252.2,256.16 252.7,256.51 253.2,256.82 253.7,257.11 254.2,257.38 254.7,257.61 255.2,257.83 255.7,258.03 256.2,258.20 256.7,258.36 257.2,258.50 257.7,258.63 258.2,258.74 258.7,258.84 259.2,258.92 259.7,259.00 260.2,259.07 260.7,259.13 261.2,259.18 261.7,259.23 262.2,259.27 262.7,259.30 263.2,259.33 263.7,259.36 264.2,259.38 264.7,259.40 265.2,259.41 265.7,259.43 266.2,259.44 266.7,259.45 267.2,259.46 267.7,259.46 268.2,259.47 268.7,259.48 269.2,259.48 269.7,259.48 270.2,259.49 270.7,259.49 271.2,259.49 271.7,259.49 272.2,259.49 272.7,259.50 273.2,259.50 273.7,259.50 274.2,259.50 274.7,259.50 275.2,259.50 275.7,259.50 276.2,259.50 276.7,259.50 277.2,259.50 277.7,259.50 278.2,259.50 278.7,259.50 279.2,259.50 279.7,259.50 280.2,259.50 280.7,259.50 281.2,259.50 281.7,259.50 282.2,259.50 282.7,259.50 283.2,259.50 283.7,259.50 284.2,259.50 284.7,259.50" fill="none" stroke="#404040" stroke-width="2.5" stroke-linejoin="round"/><polyline points="224.2,181.49 224.7,182.29 225.2,183.08 225.7,183.87 226.2,184.66 226.7,185.44 227.2,186.22 227.7,186.99 228.2,187.76 228.7,188.53 229.2,189.29 229.7,190.05 230.2,190.80 230.7,191.54 231.2,192.29 231.7,193.02 232.2,193.75 232.7,194.48 233.2,195.20 233.7,195.91 234.2,196.62 234.7,197.33 235.2,198.03 235.7,198.72 236.2,199.40 236.7,200.08 237.2,200.76 237.7,201.43 238.2,202.09 238.7,202.74 239.2,203.39 239.7,204.03 240.2,204.67 240.7,205.29 241.2,205.92 241.7,206.53 242.2,207.14 242.7,207.74 243.2,208.33 243.7,208.91 244.2,209.49 244.7,210.06 245.2,210.62 245.7,211.17 246.2,211.72 246.7,212.26 247.2,212.79 247.7,213.31 248.2,213.82 248.7,214.32 249.2,214.82 249.7,215.30 250.2,215.78 250.7,216.25 251.2,216.71 251.7,217.16 252.2,217.60 252.7,218.04 253.2,218.46 253.7,218.87 254.2,219.28 254.7,219.67 255.2,220.06 255.7,220.43 256.2,220.79 256.7,221.15 257.2,221.49 257.7,221.83 258.2,222.15 258.7,222.46 259.2,222.77 259.7,223.06 260.2,223.34 260.7,223.61 261.2,223.87 261.7,224.11 262.2,224.35 262.7,224.58 263.2,224.79 263.7,224.99 264.2,225.18 264.7,225.36 265.2,225.53 265.7,225.68 266.2,225.83 266.7,225.96 267.2,226.08 267.7,226.18 268.2,226.28 268.7,226.36 269.2,226.43 269.7,226.48 270.2,226.53 270.7,226.56 271.2,226.57 271.7,226.58 272.2,226.57 272.7,226.55 273.2,226.51 273.7,226.46 274.2,226.40 274.7,226.32 275.2,226.23 275.7,226.13 276.2,226.01 276.7,225.87 277.2,225.73 277.7,225.57 278.2,225.39 278.7,225.20 279.2,225.00 279.7,224.78 280.2,224.54 280.7,224.29 281.2,224.03 281.7,223.75 282.2,223.45 282.7,223.14 283.2,222.82 283.7,222.47 284.2,222.12 284.7,221.74" fill="none" stroke="#404040" stroke-width="2.5" stroke-linejoin="round"/></g>
<rect x="226.2" y="175.4" width="56.60000000000002" height="207.70000000000002" fill="none" stroke="#686868" stroke-width="1.5"/>
<line x1="233.3" y1="383.1" x2="233.3" y2="387.8" stroke="#333" stroke-width="1.1"/>
<line x1="248.7" y1="383.1" x2="248.7" y2="385.70000000000005" stroke="#333" stroke-width="1.1"/>
<line x1="264.1" y1="383.1" x2="264.1" y2="387.8" stroke="#333" stroke-width="1.1"/>
<line x1="278.6" y1="383.1" x2="278.6" y2="385.70000000000005" stroke="#333" stroke-width="1.1"/>
<text x="246.3" y="397.6" font-family="'Liberation Serif', serif" font-size="10.2" font-weight="normal" font-style="normal" fill="#111" text-anchor="middle" textLength="19.4" lengthAdjust="spacingAndGlyphs" stroke="#111" stroke-width="0.25">43.6</text>
<text x="276.8" y="397.6" font-family="'Liberation Serif', serif" font-size="10.2" font-weight="normal" font-style="normal" fill="#111" text-anchor="middle" textLength="19.4" lengthAdjust="spacingAndGlyphs" stroke="#111" stroke-width="0.25">43.7</text>
<rect x="286.1" y="175.4" width="56.299999999999955" height="207.70000000000002" fill="#fff"/>
<line x1="317.6" y1="175.4" x2="317.6" y2="383.1" stroke="#9a9a9a" stroke-width="0.8" stroke-dasharray="1,1.6"/>
<g clip-path="url(#cb4)"><polyline points="284.1,373.48 284.6,373.47 285.1,373.47 285.6,373.46 286.1,373.45 286.6,373.44 287.1,373.42 287.6,373.41 288.1,373.38 288.6,373.36 289.1,373.33 289.6,373.29 290.1,373.25 290.6,373.19 291.1,373.13 291.6,373.06 292.1,372.97 292.6,372.87 293.1,372.75 293.6,372.62 294.1,372.46 294.6,372.28 295.1,372.08 295.6,371.84 296.1,371.57 296.6,371.27 297.1,370.93 297.6,370.55 298.1,370.13 298.6,369.65 299.1,369.13 299.6,368.55 300.1,367.91 300.6,367.22 301.1,366.46 301.6,365.64 302.1,364.75 302.6,363.80 303.1,362.79 303.6,361.71 304.1,360.57 304.6,359.36 305.1,358.10 305.6,356.79 306.1,355.43 306.6,354.03 307.1,352.59 307.6,351.12 308.1,349.64 308.6,348.15 309.1,346.66 309.6,345.19 310.1,343.74 310.6,342.33 311.1,340.96 311.6,339.65 312.1,338.42 312.6,337.27 313.1,336.22 313.6,335.27 314.1,334.43 314.6,333.72 315.1,333.14 315.6,332.69 316.1,332.39 316.6,332.23 317.1,332.21 317.6,332.34 318.1,332.62 318.6,333.04 319.1,333.59 319.6,334.28 320.1,335.09 320.6,336.02 321.1,337.05 321.6,338.18 322.1,339.40 322.6,340.69 323.1,342.05 323.6,343.45 324.1,344.90 324.6,346.37 325.1,347.85 325.6,349.34 326.1,350.83 326.6,352.30 327.1,353.74 327.6,355.15 328.1,356.52 328.6,357.84 329.1,359.12 329.6,360.33 330.1,361.48 330.6,362.58 331.1,363.61 331.6,364.57 332.1,365.47 332.6,366.30 333.1,367.07 333.6,367.78 334.1,368.42 334.6,369.01 335.1,369.55 335.6,370.03 336.1,370.47 336.6,370.86 337.1,371.21 337.6,371.52 338.1,371.79 338.6,372.03 339.1,372.24 339.6,372.43 340.1,372.59 340.6,372.73 341.1,372.85 341.6,372.95 342.1,373.04 342.6,373.12 343.1,373.18 343.6,373.24 344.1,373.28" fill="none" stroke="#404040" stroke-width="2.5" stroke-linejoin="round"/><polyline points="284.1,328.61 284.6,327.96 285.1,327.26 285.6,326.51 286.1,325.72 286.6,324.89 287.1,324.01 287.6,323.09 288.1,322.13 288.6,321.13 289.1,320.08 289.6,319.00 290.1,317.89 290.6,316.75 291.1,315.58 291.6,314.38 292.1,313.17 292.6,311.94 293.1,310.71 293.6,309.47 294.1,308.23 294.6,307.00 295.1,305.79 295.6,304.60 296.1,303.43 296.6,302.30 297.1,301.21 297.6,300.17 298.1,299.18 298.6,298.26 299.1,297.40 299.6,296.61 300.1,295.89 300.6,295.26 301.1,294.72 301.6,294.27 302.1,293.90 302.6,293.64 303.1,293.47 303.6,293.40 304.1,293.43 304.6,293.56 305.1,293.79 305.6,294.11 306.1,294.53 306.6,295.04 307.1,295.63 307.6,296.31 308.1,297.07 308.6,297.90 309.1,298.81 309.6,299.77 310.1,300.79 310.6,301.86 311.1,302.98 311.6,304.13 312.1,305.31 312.6,306.52 313.1,307.74 313.6,308.97 314.1,310.21 314.6,311.45 315.1,312.68 315.6,313.90 316.1,315.10 316.6,316.28 317.1,317.44 317.6,318.56 318.1,319.66 318.6,320.71 319.1,321.73 319.6,322.71 320.1,323.65 320.6,324.54 321.1,325.39 321.6,326.20 322.1,326.96 322.6,327.68 323.1,328.36 323.6,328.99 324.1,329.58 324.6,330.13 325.1,330.64 325.6,331.11 326.1,331.54 326.6,331.94 327.1,332.31 327.6,332.65 328.1,332.96 328.6,333.23 329.1,333.49 329.6,333.72 330.1,333.92 330.6,334.11 331.1,334.28 331.6,334.43 332.1,334.56 332.6,334.68 333.1,334.78 333.6,334.88 334.1,334.96 334.6,335.03 335.1,335.10 335.6,335.15 336.1,335.20 336.6,335.24 337.1,335.28 337.6,335.31 338.1,335.34 338.6,335.36 339.1,335.39 339.6,335.40 340.1,335.42 340.6,335.43 341.1,335.44 341.6,335.45 342.1,335.46 342.6,335.47 343.1,335.47 343.6,335.48 344.1,335.48" fill="none" stroke="#404040" stroke-width="2.5" stroke-linejoin="round"/><polyline points="284.1,290.67 284.6,289.81 285.1,288.90 285.6,287.95 286.1,286.95 286.6,285.91 287.1,284.82 287.6,283.69 288.1,282.53 288.6,281.34 289.1,280.11 289.6,278.86 290.1,277.59 290.6,276.31 291.1,275.02 291.6,273.72 292.1,272.43 292.6,271.15 293.1,269.89 293.6,268.65 294.1,267.45 294.6,266.28 295.1,265.17 295.6,264.10 296.1,263.10 296.6,262.17 297.1,261.30 297.6,260.53 298.1,259.83 298.6,259.23 299.1,258.72 299.6,258.31 300.1,258.01 300.6,257.80 301.1,257.71 301.6,257.72 302.1,257.84 302.6,258.06 303.1,258.39 303.6,258.81 304.1,259.34 304.6,259.96 305.1,260.67 305.6,261.47 306.1,262.35 306.6,263.30 307.1,264.31 307.6,265.39 308.1,266.51 308.6,267.69 309.1,268.90 309.6,270.14 310.1,271.41 310.6,272.69 311.1,273.98 311.6,275.28 312.1,276.57 312.6,277.85 313.1,279.12 313.6,280.36 314.1,281.58 314.6,282.77 315.1,283.92 315.6,285.04 316.1,286.12 316.6,287.15 317.1,288.14 317.6,289.09 318.1,289.99 318.6,290.84 319.1,291.64 319.6,292.40 320.1,293.11 320.6,293.77 321.1,294.39 321.6,294.96 322.1,295.49 322.6,295.98 323.1,296.43 323.6,296.85 324.1,297.23 324.6,297.57 325.1,297.89 325.6,298.17 326.1,298.43 326.6,298.66 327.1,298.87 327.6,299.06 328.1,299.22 328.6,299.37 329.1,299.50 329.6,299.62 330.1,299.72 330.6,299.82 331.1,299.90 331.6,299.97 332.1,300.03 332.6,300.08 333.1,300.13 333.6,300.17 334.1,300.20 334.6,300.23 335.1,300.26 335.6,300.28 336.1,300.30 336.6,300.32 337.1,300.33 337.6,300.34 338.1,300.35 338.6,300.36 339.1,300.37 339.6,300.37 340.1,300.38 340.6,300.38 341.1,300.38 341.6,300.39 342.1,300.39 342.6,300.39 343.1,300.39 343.6,300.39 344.1,300.40" fill="none" stroke="#404040" stroke-width="2.5" stroke-linejoin="round"/><polyline points="284.1,250.86 284.6,249.72 285.1,248.51 285.6,247.24 286.1,245.91 286.6,244.52 287.1,243.09 287.6,241.60 288.1,240.08 288.6,238.53 289.1,236.95 289.6,235.36 290.1,233.77 290.6,232.19 291.1,230.63 291.6,229.10 292.1,227.62 292.6,226.19 293.1,224.83 293.6,223.56 294.1,222.37 294.6,221.29 295.1,220.32 295.6,219.47 296.1,218.75 296.6,218.17 297.1,217.74 297.6,217.45 298.1,217.31 298.6,217.33 299.1,217.49 299.6,217.81 300.1,218.28 300.6,218.88 301.1,219.63 301.6,220.50 302.1,221.49 302.6,222.60 303.1,223.81 303.6,225.10 304.1,226.47 304.6,227.91 305.1,229.41 305.6,230.94 306.1,232.51 306.6,234.09 307.1,235.68 307.6,237.27 308.1,238.84 308.6,240.39 309.1,241.90 309.6,243.38 310.1,244.81 310.6,246.18 311.1,247.50 311.6,248.76 312.1,249.95 312.6,251.08 313.1,252.14 313.6,253.13 314.1,254.06 314.6,254.92 315.1,255.71 315.6,256.44 316.1,257.10 316.6,257.71 317.1,258.27 317.6,258.76 318.1,259.21 318.6,259.62 319.1,259.98 319.6,260.30 320.1,260.59 320.6,260.84 321.1,261.06 321.6,261.25 322.1,261.42 322.6,261.57 323.1,261.69 323.6,261.80 324.1,261.90 324.6,261.98 325.1,262.05 325.6,262.11 326.1,262.16 326.6,262.20 327.1,262.23 327.6,262.26 328.1,262.29 328.6,262.31 329.1,262.33 329.6,262.34 330.1,262.35 330.6,262.36 331.1,262.37 331.6,262.37 332.1,262.38 332.6,262.38 333.1,262.39 333.6,262.39 334.1,262.39 334.6,262.39 335.1,262.40 335.6,262.40 336.1,262.40 336.6,262.40 337.1,262.40 337.6,262.40 338.1,262.40 338.6,262.40 339.1,262.40 339.6,262.40 340.1,262.40 340.6,262.40 341.1,262.40 341.6,262.40 342.1,262.40 342.6,262.40 343.1,262.40 343.6,262.40 344.1,262.40" fill="none" stroke="#404040" stroke-width="2.5" stroke-linejoin="round"/><polyline points="284.1,205.69 284.6,204.30 285.1,202.88 285.6,201.43 286.1,199.97 286.6,198.49 287.1,197.00 287.6,195.52 288.1,194.05 288.6,192.61 289.1,191.19 289.6,189.81 290.1,188.48 290.6,187.21 291.1,186.00 291.6,184.87 292.1,183.83 292.6,182.88 293.1,182.02 293.6,181.28 294.1,180.64 294.6,180.13 295.1,179.73 295.6,179.46 296.1,179.32 296.6,179.31 297.1,179.43 297.6,179.67 298.1,180.04 298.6,180.53 299.1,181.14 299.6,181.86 300.1,182.70 300.6,183.63 301.1,184.66 301.6,185.77 302.1,186.96 302.6,188.22 303.1,189.54 303.6,190.91 304.1,192.32 304.6,193.76 305.1,195.23 305.6,196.71 306.1,198.19 306.6,199.67 307.1,201.14 307.6,202.59 308.1,204.02 308.6,205.41 309.1,206.77 309.6,208.09 310.1,209.36 310.6,210.58 311.1,211.75 311.6,212.87 312.1,213.93 312.6,214.94 313.1,215.88 313.6,216.77 314.1,217.60 314.6,218.38 315.1,219.10 315.6,219.77 316.1,220.38 316.6,220.95 317.1,221.47 317.6,221.94 318.1,222.38 318.6,222.77 319.1,223.12 319.6,223.44 320.1,223.73 320.6,223.99 321.1,224.22 321.6,224.42 322.1,224.60 322.6,224.76 323.1,224.90 323.6,225.03 324.1,225.14 324.6,225.23 325.1,225.32 325.6,225.39 326.1,225.45 326.6,225.50 327.1,225.55 327.6,225.59 328.1,225.62 328.6,225.65 329.1,225.68 329.6,225.70 330.1,225.71 330.6,225.73 331.1,225.74 331.6,225.75 332.1,225.76 332.6,225.77 333.1,225.77 333.6,225.78 334.1,225.78 334.6,225.79 335.1,225.79 335.6,225.79 336.1,225.79 336.6,225.79 337.1,225.80 337.6,225.80 338.1,225.80 338.6,225.80 339.1,225.80 339.6,225.80 340.1,225.80 340.6,225.80 341.1,225.80 341.6,225.80 342.1,225.80 342.6,225.80 343.1,225.80 343.6,225.80 344.1,225.80" fill="none" stroke="#404040" stroke-width="2.5" stroke-linejoin="round"/></g>
<rect x="286.1" y="175.4" width="56.299999999999955" height="207.70000000000002" fill="none" stroke="#686868" stroke-width="1.5"/>
<line x1="293.3" y1="383.1" x2="293.3" y2="387.8" stroke="#333" stroke-width="1.1"/>
<line x1="308.4" y1="383.1" x2="308.4" y2="385.70000000000005" stroke="#333" stroke-width="1.1"/>
<line x1="323.7" y1="383.1" x2="323.7" y2="387.8" stroke="#333" stroke-width="1.1"/>
<line x1="338.5" y1="383.1" x2="338.5" y2="385.70000000000005" stroke="#333" stroke-width="1.1"/>
<text x="308.3" y="397.6" font-family="'Liberation Serif', serif" font-size="10.2" font-weight="normal" font-style="normal" fill="#111" text-anchor="middle" textLength="19.4" lengthAdjust="spacingAndGlyphs" stroke="#111" stroke-width="0.25">43.6</text>
<text x="339.2" y="397.6" font-family="'Liberation Serif', serif" font-size="10.2" font-weight="normal" font-style="normal" fill="#111" text-anchor="middle" textLength="19.4" lengthAdjust="spacingAndGlyphs" stroke="#111" stroke-width="0.25">43.7</text>
<text x="75.9" y="221.2" font-family="'Liberation Serif', serif" font-size="11" font-weight="bold" font-style="normal" fill="#111" text-anchor="start" textLength="25.3" lengthAdjust="spacingAndGlyphs">400s</text>
<text x="76.7" y="255.3" font-family="'Liberation Serif', serif" font-size="11" font-weight="bold" font-style="normal" fill="#111" text-anchor="start" textLength="24.8" lengthAdjust="spacingAndGlyphs">300s</text>
<text x="76.9" y="295.1" font-family="'Liberation Serif', serif" font-size="11" font-weight="bold" font-style="normal" fill="#111" text-anchor="start" textLength="24.8" lengthAdjust="spacingAndGlyphs">200s</text>
<text x="78.3" y="333.3" font-family="'Liberation Serif', serif" font-size="11" font-weight="bold" font-style="normal" fill="#111" text-anchor="start" textLength="24.2" lengthAdjust="spacingAndGlyphs">100s</text>
<text x="90.3" y="369.9" font-family="'Liberation Serif', serif" font-size="11" font-weight="bold" font-style="normal" fill="#111" text-anchor="start" textLength="12" lengthAdjust="spacingAndGlyphs">0s</text>
<text transform="translate(24,360.4) rotate(-90)" font-family="'Liberation Serif', serif" font-size="16.3" fill="#231815" stroke="#231815" stroke-width="0.4" textLength="154" lengthAdjust="spacingAndGlyphs">Relative Intensity (a.u.)</text>
<text x="147.7" y="419.1" font-family="'Liberation Serif', serif" font-size="17.4" font-weight="normal" font-style="normal" fill="#231815" text-anchor="start" textLength="7" lengthAdjust="spacingAndGlyphs" stroke="#231815" stroke-width="0.3">2</text>
<text x="157" y="419.1" font-family="'Liberation Serif', serif" font-size="17.4" font-weight="normal" font-style="italic" fill="#231815" text-anchor="start" textLength="11.5" lengthAdjust="spacingAndGlyphs" stroke="#231815" stroke-width="0.1">θ</text>
<text x="170.5" y="419.1" font-family="'Liberation Serif', serif" font-size="17.4" font-weight="normal" font-style="normal" fill="#231815" text-anchor="start" textLength="60.7" lengthAdjust="spacingAndGlyphs" stroke="#231815" stroke-width="0.4">(degree)</text>
<text x="356.9" y="173.7" font-family="'Liberation Sans', sans-serif" font-size="17.6" font-weight="normal" font-style="normal" fill="#111" text-anchor="start" textLength="8.6" lengthAdjust="spacingAndGlyphs" stroke="#111" stroke-width="0.3">C</text>
<rect x="408.9" y="173.7" width="253.89999999999998" height="207.7" fill="none" stroke="#7c7c7c" stroke-width="1.8"/>
<line x1="404.9" y1="367.20" x2="408.0" y2="367.20" stroke="#333" stroke-width="1.1"/>
<text x="402" y="370.8" font-family="'Liberation Serif', serif" font-size="11.8" font-weight="bold" font-style="normal" fill="#111" text-anchor="end" textLength="24.3" lengthAdjust="spacingAndGlyphs">0.00</text>
<line x1="406.4" y1="352.34" x2="408.0" y2="352.34" stroke="#333" stroke-width="1.1"/>
<line x1="404.9" y1="337.48" x2="408.0" y2="337.48" stroke="#333" stroke-width="1.1"/>
<text x="402" y="341.08000000000004" font-family="'Liberation Serif', serif" font-size="11.8" font-weight="bold" font-style="normal" fill="#111" text-anchor="end" textLength="24.3" lengthAdjust="spacingAndGlyphs">0.05</text>
<line x1="406.4" y1="322.62" x2="408.0" y2="322.62" stroke="#333" stroke-width="1.1"/>
<line x1="404.9" y1="307.76" x2="408.0" y2="307.76" stroke="#333" stroke-width="1.1"/>
<text x="402" y="311.36" font-family="'Liberation Serif', serif" font-size="11.8" font-weight="bold" font-style="normal" fill="#111" text-anchor="end" textLength="24.3" lengthAdjust="spacingAndGlyphs">0.10</text>
<line x1="406.4" y1="292.90" x2="408.0" y2="292.90" stroke="#333" stroke-width="1.1"/>
<line x1="404.9" y1="278.04" x2="408.0" y2="278.04" stroke="#333" stroke-width="1.1"/>
<text x="402" y="281.64" font-family="'Liberation Serif', serif" font-size="11.8" font-weight="bold" font-style="normal" fill="#111" text-anchor="end" textLength="24.3" lengthAdjust="spacingAndGlyphs">0.15</text>
<line x1="406.4" y1="263.18" x2="408.0" y2="263.18" stroke="#333" stroke-width="1.1"/>
<line x1="404.9" y1="248.32" x2="408.0" y2="248.32" stroke="#333" stroke-width="1.1"/>
<text x="402" y="251.92" font-family="'Liberation Serif', serif" font-size="11.8" font-weight="bold" font-style="normal" fill="#111" text-anchor="end" textLength="24.3" lengthAdjust="spacingAndGlyphs">0.20</text>
<line x1="406.4" y1="233.46" x2="408.0" y2="233.46" stroke="#333" stroke-width="1.1"/>
<line x1="404.9" y1="218.60" x2="408.0" y2="218.60" stroke="#333" stroke-width="1.1"/>
<text x="402" y="222.2" font-family="'Liberation Serif', serif" font-size="11.8" font-weight="bold" font-style="normal" fill="#111" text-anchor="end" textLength="24.3" lengthAdjust="spacingAndGlyphs">0.25</text>
<line x1="406.4" y1="203.74" x2="408.0" y2="203.74" stroke="#333" stroke-width="1.1"/>
<line x1="404.9" y1="188.88" x2="408.0" y2="188.88" stroke="#333" stroke-width="1.1"/>
<text x="402" y="192.47999999999996" font-family="'Liberation Serif', serif" font-size="11.8" font-weight="bold" font-style="normal" fill="#111" text-anchor="end" textLength="24.3" lengthAdjust="spacingAndGlyphs">0.30</text>
<line x1="420.30" y1="382.29999999999995" x2="420.30" y2="385.4" stroke="#333" stroke-width="1.1"/>
<text x="420.3" y="397.6" font-family="'Liberation Serif', serif" font-size="10.7" font-weight="normal" font-style="normal" fill="#111" text-anchor="middle" textLength="6.1" lengthAdjust="spacingAndGlyphs" stroke="#111" stroke-width="0.2">0</text>
<line x1="434.73" y1="382.29999999999995" x2="434.73" y2="383.9" stroke="#333" stroke-width="1.1"/>
<line x1="449.16" y1="382.29999999999995" x2="449.16" y2="385.4" stroke="#333" stroke-width="1.1"/>
<text x="449.16" y="397.6" font-family="'Liberation Serif', serif" font-size="10.7" font-weight="normal" font-style="normal" fill="#111" text-anchor="middle" textLength="12.2" lengthAdjust="spacingAndGlyphs" stroke="#111" stroke-width="0.2">50</text>
<line x1="463.58" y1="382.29999999999995" x2="463.58" y2="383.9" stroke="#333" stroke-width="1.1"/>
<line x1="478.01" y1="382.29999999999995" x2="478.01" y2="385.4" stroke="#333" stroke-width="1.1"/>
<text x="478.01" y="397.6" font-family="'Liberation Serif', serif" font-size="10.7" font-weight="normal" font-style="normal" fill="#111" text-anchor="middle" textLength="18.2" lengthAdjust="spacingAndGlyphs" stroke="#111" stroke-width="0.2">100</text>
<line x1="492.44" y1="382.29999999999995" x2="492.44" y2="383.9" stroke="#333" stroke-width="1.1"/>
<line x1="506.87" y1="382.29999999999995" x2="506.87" y2="385.4" stroke="#333" stroke-width="1.1"/>
<text x="506.87" y="397.6" font-family="'Liberation Serif', serif" font-size="10.7" font-weight="normal" font-style="normal" fill="#111" text-anchor="middle" textLength="18.2" lengthAdjust="spacingAndGlyphs" stroke="#111" stroke-width="0.2">150</text>
<line x1="521.29" y1="382.29999999999995" x2="521.29" y2="383.9" stroke="#333" stroke-width="1.1"/>
<line x1="535.72" y1="382.29999999999995" x2="535.72" y2="385.4" stroke="#333" stroke-width="1.1"/>
<text x="535.72" y="397.6" font-family="'Liberation Serif', serif" font-size="10.7" font-weight="normal" font-style="normal" fill="#111" text-anchor="middle" textLength="18.2" lengthAdjust="spacingAndGlyphs" stroke="#111" stroke-width="0.2">200</text>
<line x1="550.15" y1="382.29999999999995" x2="550.15" y2="383.9" stroke="#333" stroke-width="1.1"/>
<line x1="564.58" y1="382.29999999999995" x2="564.58" y2="385.4" stroke="#333" stroke-width="1.1"/>
<text x="564.58" y="397.6" font-family="'Liberation Serif', serif" font-size="10.7" font-weight="normal" font-style="normal" fill="#111" text-anchor="middle" textLength="18.2" lengthAdjust="spacingAndGlyphs" stroke="#111" stroke-width="0.2">250</text>
<line x1="579.00" y1="382.29999999999995" x2="579.00" y2="383.9" stroke="#333" stroke-width="1.1"/>
<line x1="593.43" y1="382.29999999999995" x2="593.43" y2="385.4" stroke="#333" stroke-width="1.1"/>
<text x="593.43" y="397.6" font-family="'Liberation Serif', serif" font-size="10.7" font-weight="normal" font-style="normal" fill="#111" text-anchor="middle" textLength="18.2" lengthAdjust="spacingAndGlyphs" stroke="#111" stroke-width="0.2">300</text>
<line x1="607.86" y1="382.29999999999995" x2="607.86" y2="383.9" stroke="#333" stroke-width="1.1"/>
<line x1="622.28" y1="382.29999999999995" x2="622.28" y2="385.4" stroke="#333" stroke-width="1.1"/>
<text x="622.28" y="397.6" font-family="'Liberation Serif', serif" font-size="10.7" font-weight="normal" font-style="normal" fill="#111" text-anchor="middle" textLength="18.2" lengthAdjust="spacingAndGlyphs" stroke="#111" stroke-width="0.2">350</text>
<line x1="636.71" y1="382.29999999999995" x2="636.71" y2="383.9" stroke="#333" stroke-width="1.1"/>
<line x1="651.14" y1="382.29999999999995" x2="651.14" y2="385.4" stroke="#333" stroke-width="1.1"/>
<text x="651.14" y="397.6" font-family="'Liberation Serif', serif" font-size="10.7" font-weight="normal" font-style="normal" fill="#111" text-anchor="middle" textLength="18.2" lengthAdjust="spacingAndGlyphs" stroke="#111" stroke-width="0.2">400</text>
<text transform="translate(365,317.8) rotate(-90)" font-family="'Liberation Serif', serif" font-size="17" fill="#231815" stroke="#231815" stroke-width="0.45" textLength="68.4" lengthAdjust="spacingAndGlyphs">strain (%)</text>
<text x="527.7" y="417.2" font-family="'Liberation Serif', serif" font-size="18.5" font-weight="normal" font-style="normal" fill="#231815" text-anchor="start" textLength="55.7" lengthAdjust="spacingAndGlyphs" stroke="#231815" stroke-width="0.45">time (s)</text>
<polyline points="420.30,367.20 439.62,322.98 458.93,312.99 478.25,300.63 497.56,295.28 516.88,290.52 536.19,283.39 555.51,278.04 574.82,272.10 594.14,271.20 613.46,267.10 632.77,262.17" fill="none" stroke="#000000" stroke-width="1.4"/>
<rect x="417.30" y="364.20" width="6" height="6" fill="#000000"/><rect x="436.62" y="319.98" width="6" height="6" fill="#000000"/><rect x="455.93" y="309.99" width="6" height="6" fill="#000000"/><rect x="475.25" y="297.63" width="6" height="6" fill="#000000"/><rect x="494.56" y="292.28" width="6" height="6" fill="#000000"/><rect x="513.88" y="287.52" width="6" height="6" fill="#000000"/><rect x="533.19" y="280.39" width="6" height="6" fill="#000000"/><rect x="552.51" y="275.04" width="6" height="6" fill="#000000"/><rect x="571.82" y="269.10" width="6" height="6" fill="#000000"/><rect x="591.14" y="268.20" width="6" height="6" fill="#000000"/><rect x="610.46" y="264.10" width="6" height="6" fill="#000000"/><rect x="629.77" y="259.17" width="6" height="6" fill="#000000"/>
<polyline points="420.30,367.20 439.62,317.81 458.93,307.40 478.25,300.03 497.56,291.71 516.88,287.55 536.19,282.20 555.51,270.91 574.82,267.94 594.14,267.94 613.46,262.59 632.77,260.09" fill="none" stroke="#FF0000" stroke-width="1.4"/>
<circle cx="420.30" cy="367.20" r="3.5" fill="#FF0000"/><circle cx="439.62" cy="317.81" r="3.5" fill="#FF0000"/><circle cx="458.93" cy="307.40" r="3.5" fill="#FF0000"/><circle cx="478.25" cy="300.03" r="3.5" fill="#FF0000"/><circle cx="497.56" cy="291.71" r="3.5" fill="#FF0000"/><circle cx="516.88" cy="287.55" r="3.5" fill="#FF0000"/><circle cx="536.19" cy="282.20" r="3.5" fill="#FF0000"/><circle cx="555.51" cy="270.91" r="3.5" fill="#FF0000"/><circle cx="574.82" cy="267.94" r="3.5" fill="#FF0000"/><circle cx="594.14" cy="267.94" r="3.5" fill="#FF0000"/><circle cx="613.46" cy="262.59" r="3.5" fill="#FF0000"/><circle cx="632.77" cy="260.09" r="3.5" fill="#FF0000"/>
<polyline points="420.30,367.20 439.62,294.68 458.93,281.01 478.25,276.26 497.56,266.75 516.88,263.18 536.19,254.26 555.51,247.13 574.82,243.56 594.14,242.97 613.46,240.00 632.77,228.11" fill="none" stroke="#FF00FF" stroke-width="1.4"/>
<polygon points="420.30,371.00 424.40,364.60 416.20,364.60" fill="#FF00FF"/><polygon points="439.62,298.48 443.72,292.08 435.52,292.08" fill="#FF00FF"/><polygon points="458.93,284.81 463.03,278.41 454.83,278.41" fill="#FF00FF"/><polygon points="478.25,280.06 482.35,273.66 474.15,273.66" fill="#FF00FF"/><polygon points="497.56,270.55 501.66,264.15 493.46,264.15" fill="#FF00FF"/><polygon points="516.88,266.98 520.98,260.58 512.78,260.58" fill="#FF00FF"/><polygon points="536.19,258.06 540.29,251.66 532.09,251.66" fill="#FF00FF"/><polygon points="555.51,250.93 559.61,244.53 551.41,244.53" fill="#FF00FF"/><polygon points="574.82,247.36 578.92,240.96 570.72,240.96" fill="#FF00FF"/><polygon points="594.14,246.77 598.24,240.37 590.04,240.37" fill="#FF00FF"/><polygon points="613.46,243.80 617.56,237.40 609.36,237.40" fill="#FF00FF"/><polygon points="632.77,231.91 636.87,225.51 628.67,225.51" fill="#FF00FF"/>
<polyline points="420.30,367.20 439.62,275.07 458.93,258.42 478.25,251.29 497.56,244.16 516.88,248.91 536.19,230.49 555.51,218.60 574.82,221.57 594.14,215.03 613.46,217.41 632.77,198.98" fill="none" stroke="#1515FF" stroke-width="1.4"/>
<polygon points="420.30,363.40 424.40,369.80 416.20,369.80" fill="#1515FF"/><polygon points="439.62,271.27 443.72,277.67 435.52,277.67" fill="#1515FF"/><polygon points="458.93,254.62 463.03,261.02 454.83,261.02" fill="#1515FF"/><polygon points="478.25,247.49 482.35,253.89 474.15,253.89" fill="#1515FF"/><polygon points="497.56,240.36 501.66,246.76 493.46,246.76" fill="#1515FF"/><polygon points="516.88,245.11 520.98,251.51 512.78,251.51" fill="#1515FF"/><polygon points="536.19,226.69 540.29,233.09 532.09,233.09" fill="#1515FF"/><polygon points="555.51,214.80 559.61,221.20 551.41,221.20" fill="#1515FF"/><polygon points="574.82,217.77 578.92,224.17 570.72,224.17" fill="#1515FF"/><polygon points="594.14,211.23 598.24,217.63 590.04,217.63" fill="#1515FF"/><polygon points="613.46,213.61 617.56,220.01 609.36,220.01" fill="#1515FF"/><polygon points="632.77,195.18 636.87,201.58 628.67,201.58" fill="#1515FF"/>
<polyline points="420.30,367.20 439.62,282.20 458.93,265.56 478.25,257.83 497.56,248.32 516.88,240.00 536.19,231.68 555.51,210.87 574.82,214.44 594.14,224.54 613.46,214.44 632.77,214.44" fill="none" stroke="#168016" stroke-width="1.4"/>
<polygon points="420.30,363.10 424.40,367.20 420.30,371.30 416.20,367.20" fill="#168016"/><polygon points="439.62,278.10 443.72,282.20 439.62,286.30 435.52,282.20" fill="#168016"/><polygon points="458.93,261.46 463.03,265.56 458.93,269.66 454.83,265.56" fill="#168016"/><polygon points="478.25,253.73 482.35,257.83 478.25,261.93 474.15,257.83" fill="#168016"/><polygon points="497.56,244.22 501.66,248.32 497.56,252.42 493.46,248.32" fill="#168016"/><polygon points="516.88,235.90 520.98,240.00 516.88,244.10 512.78,240.00" fill="#168016"/><polygon points="536.19,227.58 540.29,231.68 536.19,235.78 532.09,231.68" fill="#168016"/><polygon points="555.51,206.77 559.61,210.87 555.51,214.97 551.41,210.87" fill="#168016"/><polygon points="574.82,210.34 578.92,214.44 574.82,218.54 570.72,214.44" fill="#168016"/><polygon points="594.14,220.44 598.24,224.54 594.14,228.64 590.04,224.54" fill="#168016"/><polygon points="613.46,210.34 617.56,214.44 613.46,218.54 609.36,214.44" fill="#168016"/><polygon points="632.77,210.34 636.87,214.44 632.77,218.54 628.67,214.44" fill="#168016"/>
<line x1="534.6" y1="304.5" x2="564.2" y2="304.5" stroke="#000000" stroke-width="1.4"/>
<rect x="546.70" y="301.50" width="6" height="6" fill="#000000"/>
<text x="567.7" y="309.3" font-family="'Liberation Serif', serif" font-size="12.5" font-weight="normal" font-style="normal" fill="#111" text-anchor="start" textLength="32.3" lengthAdjust="spacingAndGlyphs" stroke="#111" stroke-width="0.3">anode</text>
<text x="603.0" y="309.3" font-family="'Liberation Serif', serif" font-size="11" font-weight="normal" font-style="italic" fill="#222" text-anchor="start" textLength="12.1" lengthAdjust="spacingAndGlyphs" stroke="#222" stroke-width="0.45">(a)</text>
<line x1="534.6" y1="321.1" x2="564.2" y2="321.1" stroke="#FF00FF" stroke-width="1.4"/>
<polygon points="549.70,324.90 553.80,318.50 545.60,318.50" fill="#FF00FF"/>
<text x="567.7" y="325.90000000000003" font-family="'Liberation Serif', serif" font-size="12.5" font-weight="normal" font-style="normal" fill="#111" text-anchor="start" textLength="61.2" lengthAdjust="spacingAndGlyphs" stroke="#111" stroke-width="0.3">near-anode</text>
<text x="630.9" y="325.90000000000003" font-family="'Liberation Serif', serif" font-size="11" font-weight="normal" font-style="italic" fill="#222" text-anchor="start" textLength="20.3" lengthAdjust="spacingAndGlyphs" stroke="#222" stroke-width="0.45">(n-a)</text>
<line x1="534.6" y1="337.3" x2="564.2" y2="337.3" stroke="#1515FF" stroke-width="1.4"/>
<polygon points="549.70,333.50 553.80,339.90 545.60,339.90" fill="#1515FF"/>
<text x="567.7" y="342.1" font-family="'Liberation Serif', serif" font-size="12.5" font-weight="normal" font-style="normal" fill="#111" text-anchor="start" textLength="36.5" lengthAdjust="spacingAndGlyphs" stroke="#111" stroke-width="0.3">middle</text>
<text x="607.2" y="342.1" font-family="'Liberation Serif', serif" font-size="11" font-weight="normal" font-style="italic" fill="#222" text-anchor="start" textLength="14" lengthAdjust="spacingAndGlyphs" stroke="#222" stroke-width="0.45">(m)</text>
<line x1="534.6" y1="353.3" x2="564.2" y2="353.3" stroke="#168016" stroke-width="1.4"/>
<polygon points="549.70,349.20 553.80,353.30 549.70,357.40 545.60,353.30" fill="#168016"/>
<text x="567.7" y="358.1" font-family="'Liberation Serif', serif" font-size="12.5" font-weight="normal" font-style="normal" fill="#111" text-anchor="start" textLength="70.2" lengthAdjust="spacingAndGlyphs" stroke="#111" stroke-width="0.3">near-cathode</text>
<text x="640.9" y="358.1" font-family="'Liberation Serif', serif" font-size="11" font-weight="normal" font-style="italic" fill="#222" text-anchor="start" textLength="19.7" lengthAdjust="spacingAndGlyphs" stroke="#222" stroke-width="0.45">(n-c)</text>
<line x1="534.6" y1="369.5" x2="564.2" y2="369.5" stroke="#FF0000" stroke-width="1.4"/>
<circle cx="549.70" cy="369.50" r="3.5" fill="#FF0000"/>
<text x="567.7" y="374.3" font-family="'Liberation Serif', serif" font-size="12.5" font-weight="normal" font-style="normal" fill="#111" text-anchor="start" textLength="42.2" lengthAdjust="spacingAndGlyphs" stroke="#111" stroke-width="0.3">cathode</text>
<text x="612.9" y="374.3" font-family="'Liberation Serif', serif" font-size="11" font-weight="normal" font-style="italic" fill="#222" text-anchor="start" textLength="11.8" lengthAdjust="spacingAndGlyphs" stroke="#222" stroke-width="0.45">(c)</text>
</svg>
</body></html>
